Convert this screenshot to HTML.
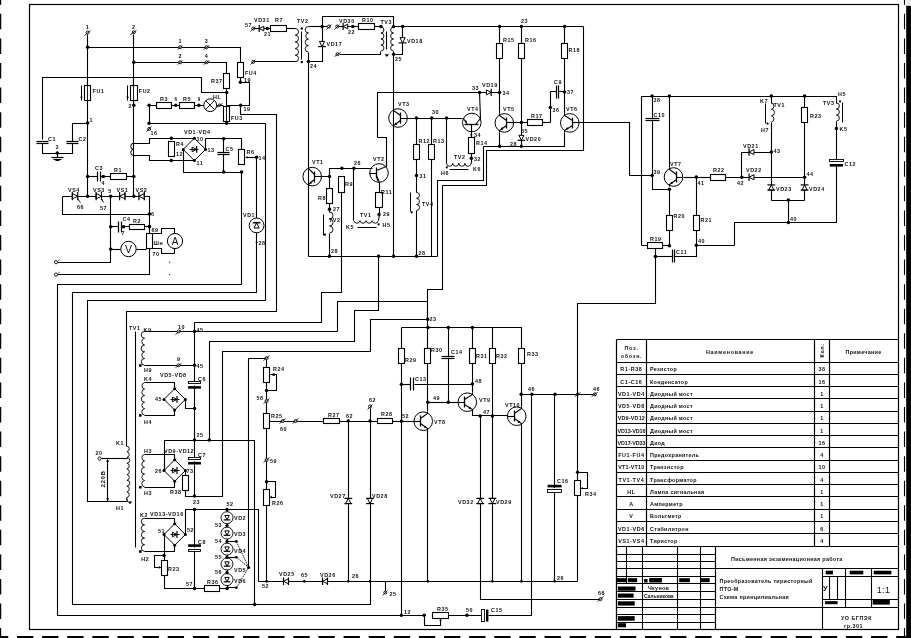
<!DOCTYPE html>
<html><head><meta charset="utf-8"><style>
html,body{margin:0;padding:0;background:#fff;width:911px;height:638px;overflow:hidden}
svg{display:block;will-change:transform}
text{font-family:"Liberation Sans",sans-serif;fill:#111}
</style></head><body>
<svg width="911" height="638" viewBox="0 0 911 638">
<rect width="911" height="638" fill="#fff"/>
<rect x="29.5" y="4.5" width="869" height="625" fill="none" stroke="#000" stroke-width="1.2"/>
<polyline points="0.6,-10.7 0.6,640" fill="none" stroke="#000" stroke-width="1.25" stroke-dasharray="15.5 9.07"/>
<polyline points="904.5,-10.7 904.5,640" fill="none" stroke="#000" stroke-width="1.1" stroke-dasharray="15.5 9.07"/>
<polyline points="-8.1,637 920,637" fill="none" stroke="#000" stroke-width="2" stroke-dasharray="16.3 8.82"/>
<rect x="906.2" y="5.6" width="4.8" height="632.4"/>
<rect x="906.2" y="0" width="4.8" height="5.6" fill="#e8e8e8"/>
<circle cx="87.6" cy="32.5" r="1.5" fill="#fff" stroke="#000" stroke-width="0.9"/>
<polyline points="84.5,35.5 90.5,30.5" fill="none" stroke="#000" stroke-width="0.8"/>
<text x="87.6" y="29" font-size="5.4" letter-spacing="0.55" font-weight="bold" text-anchor="middle">1</text>
<circle cx="133.8" cy="32.3" r="1.5" fill="#fff" stroke="#000" stroke-width="0.9"/>
<polyline points="130.5,34.5 136.5,30.5" fill="none" stroke="#000" stroke-width="0.8"/>
<text x="133.8" y="29" font-size="5.4" letter-spacing="0.55" font-weight="bold" text-anchor="middle">2</text>
<polyline points="87.5,34.5 87.5,196.5" fill="none" stroke="#000" stroke-width="1.1"/>
<polyline points="133.5,34.5 133.5,196.5" fill="none" stroke="#000" stroke-width="1.1"/>
<circle cx="87.6" cy="47.2" r="1.75"/>
<circle cx="133.8" cy="62.3" r="1.75"/>
<polyline points="87.5,47.5 240.5,47.5 240.5,62.5" fill="none" stroke="#000" stroke-width="1.1"/>
<polyline points="133.5,62.5 226.5,62.5 226.5,73.5" fill="none" stroke="#000" stroke-width="1.1"/>
<circle cx="180.2" cy="47.2" r="1.5" fill="#fff" stroke="#000" stroke-width="0.9"/>
<polyline points="177.5,49.5 182.5,45.5" fill="none" stroke="#000" stroke-width="0.8"/>
<circle cx="180.2" cy="62.3" r="1.5" fill="#fff" stroke="#000" stroke-width="0.9"/>
<polyline points="177.5,64.5 182.5,60.5" fill="none" stroke="#000" stroke-width="0.8"/>
<text x="180.2" y="42.5" font-size="5.4" letter-spacing="0.55" font-weight="bold" text-anchor="middle">1</text>
<text x="180.2" y="57.5" font-size="5.4" letter-spacing="0.55" font-weight="bold" text-anchor="middle">2</text>
<circle cx="206.6" cy="47.2" r="1.5" fill="#fff" stroke="#000" stroke-width="0.9"/>
<polyline points="203.5,49.5 209.5,45.5" fill="none" stroke="#000" stroke-width="0.8"/>
<circle cx="206.6" cy="62.3" r="1.5" fill="#fff" stroke="#000" stroke-width="0.9"/>
<polyline points="203.5,64.5 209.5,60.5" fill="none" stroke="#000" stroke-width="0.8"/>
<text x="206.6" y="42.5" font-size="5.4" letter-spacing="0.55" font-weight="bold" text-anchor="middle">3</text>
<text x="206.6" y="57.5" font-size="5.4" letter-spacing="0.55" font-weight="bold" text-anchor="middle">4</text>
<rect x="84.5" y="85.5" width="6" height="15" fill="#fff" stroke="#000" stroke-width="1.1"/>
<polyline points="87.5,85.5 87.5,100.5" fill="none" stroke="#000" stroke-width="0.9"/>
<polyline points="81.5,85.5 81.5,100.5" fill="none" stroke="#000" stroke-width="1.0"/>
<polygon points="80.1,96.8 82.7,96.8 81.4,99"/>
<text x="92.6" y="92.5" font-size="5.4" letter-spacing="0.55" font-weight="bold">FU1</text>
<rect x="130.5" y="85.5" width="7" height="15" fill="#fff" stroke="#000" stroke-width="1.1"/>
<polyline points="133.5,85.5 133.5,100.5" fill="none" stroke="#000" stroke-width="0.9"/>
<polyline points="127.5,85.5 127.5,100.5" fill="none" stroke="#000" stroke-width="1.0"/>
<polygon points="126.3,96.8 128.9,96.8 127.6,99"/>
<text x="138.8" y="92.5" font-size="5.4" letter-spacing="0.55" font-weight="bold">FU2</text>
<circle cx="87.6" cy="123" r="1.75"/>
<text x="89.5" y="121.5" font-size="5.4" letter-spacing="0.55" font-weight="bold">1</text>
<circle cx="133.8" cy="105.2" r="1.75"/>
<text x="128.5" y="107.5" font-size="5.4" letter-spacing="0.55" font-weight="bold">2</text>
<rect x="237.5" y="62.5" width="6" height="15" fill="#fff" stroke="#000" stroke-width="1.1"/>
<polyline points="240.5,77.5 240.5,82.5 249.5,82.5 249.5,105.5 226.5,105.5" fill="none" stroke="#000" stroke-width="1.1"/>
<circle cx="240.4" cy="82.2" r="1.75"/>
<text x="245" y="74.8" font-size="5.4" letter-spacing="0.55" font-weight="bold">FU4</text>
<text x="244" y="81.5" font-size="5.4" letter-spacing="0.55" font-weight="bold">19</text>
<rect x="223.5" y="73.5" width="6" height="15" fill="#fff" stroke="#000" stroke-width="1.1"/>
<text x="211" y="82.5" font-size="5.4" letter-spacing="0.55" font-weight="bold">R37</text>
<polyline points="226.5,88.5 226.5,106.5" fill="none" stroke="#000" stroke-width="1.1"/>
<circle cx="226.7" cy="92.4" r="1.75"/>
<polyline points="42.5,139.5 42.5,77.5 201.5,77.5 201.5,92.5 226.5,92.5" fill="none" stroke="#000" stroke-width="1.1"/>
<rect x="40.3" y="142.1" width="4" height="0.8" fill="#fff"/>
<polyline points="36.5,141.5 48.5,141.5" fill="none" stroke="#000" stroke-width="1.2"/>
<polyline points="36.5,143.5 48.5,143.5" fill="none" stroke="#000" stroke-width="1.2"/>
<rect x="70.4" y="142.1" width="4" height="0.8" fill="#fff"/>
<polyline points="66.5,141.5 78.5,141.5" fill="none" stroke="#000" stroke-width="1.2"/>
<polyline points="66.5,143.5 78.5,143.5" fill="none" stroke="#000" stroke-width="1.2"/>
<polyline points="42.5,143.5 42.5,153.5 72.5,153.5 72.5,143.5" fill="none" stroke="#000" stroke-width="1.1"/>
<polyline points="72.5,141.5 72.5,123.5 87.5,123.5" fill="none" stroke="#000" stroke-width="1.1"/>
<text x="48" y="141" font-size="5.4" letter-spacing="0.55" font-weight="bold">C1</text>
<text x="78.5" y="141" font-size="5.4" letter-spacing="0.55" font-weight="bold">C2</text>
<circle cx="57.3" cy="153" r="1.75"/>
<text x="55.5" y="149" font-size="5.4" letter-spacing="0.55" font-weight="bold">3</text>
<polyline points="57.5,153.5 57.5,157.5" fill="none" stroke="#000" stroke-width="1.1"/>
<polyline points="51.5,157.5 63.5,157.5" fill="none" stroke="#000" stroke-width="1.2"/>
<polyline points="53.5,159.5 61.5,159.5" fill="none" stroke="#000" stroke-width="1.1"/>
<polyline points="55.5,160.5 59.5,160.5" fill="none" stroke="#000" stroke-width="1.0"/>
<polyline points="149.5,105.5 223.5,105.5" fill="none" stroke="#000" stroke-width="1.1"/>
<circle cx="149.1" cy="105.2" r="1.75"/>
<rect x="156.5" y="102.5" width="15" height="6" fill="#fff" stroke="#000" stroke-width="1.1"/>
<text x="160" y="100.5" font-size="5.4" letter-spacing="0.55" font-weight="bold">R3</text>
<circle cx="175.8" cy="105.2" r="1.75"/>
<text x="174.5" y="101" font-size="4.5" letter-spacing="0.55" font-weight="bold">6</text>
<rect x="179.5" y="102.5" width="15" height="6" fill="#fff" stroke="#000" stroke-width="1.1"/>
<text x="183" y="100.5" font-size="5.4" letter-spacing="0.55" font-weight="bold">R5</text>
<circle cx="198.9" cy="105.2" r="1.75"/>
<text x="197.8" y="101" font-size="4.5" letter-spacing="0.55" font-weight="bold">9</text>
<circle cx="210.2" cy="105.2" r="6.4" fill="#fff" stroke="#000" stroke-width="1.0"/>
<polyline points="205.5,100.5 214.5,109.5" fill="none" stroke="#000" stroke-width="0.9"/>
<polyline points="205.5,109.5 214.5,100.5" fill="none" stroke="#000" stroke-width="0.9"/>
<text x="213" y="98.5" font-size="5.4" letter-spacing="0.55" font-weight="bold">HL</text>
<circle cx="219.6" cy="105.2" r="1.2" fill="#fff" stroke="#000" stroke-width="0.9"/>
<polyline points="216.5,107.5 222.5,103.5" fill="none" stroke="#000" stroke-width="0.8"/>
<polyline points="149.5,105.5 149.5,123.5 265.5,123.5 265.5,300.5 87.5,300.5 87.5,501.5 127.5,501.5" fill="none" stroke="#000" stroke-width="1.1"/>
<circle cx="149.1" cy="123.3" r="1.75"/>
<circle cx="149.1" cy="129" r="1.5" fill="#fff" stroke="#000" stroke-width="0.9"/>
<polyline points="146.5,131.5 151.5,126.5" fill="none" stroke="#000" stroke-width="0.8"/>
<text x="150.5" y="135" font-size="5.4" letter-spacing="0.55" font-weight="bold">16</text>
<rect x="223.5" y="106.5" width="6" height="15" fill="#fff" stroke="#000" stroke-width="1.1"/>
<polyline points="226.5,106.5 226.5,121.5" fill="none" stroke="#000" stroke-width="0.9"/>
<circle cx="226.7" cy="123.3" r="1.75"/>
<text x="231" y="119.5" font-size="5.4" letter-spacing="0.55" font-weight="bold">FU3</text>
<circle cx="240.6" cy="105.2" r="1.75"/>
<text x="243.5" y="110.5" font-size="5.4" letter-spacing="0.55" font-weight="bold">19</text>
<polyline points="240.5,105.5 240.5,114.5 276.5,114.5 276.5,311.5 126.5,311.5 126.5,446.5" fill="none" stroke="#000" stroke-width="1.1"/>
<path d="M133.8,143.2 A3.1,3.1 0 0 0 133.8,149.4 A3.1,3.1 0 0 0 133.8,155.6" fill="none" stroke="#000" stroke-width="1.0"/>
<polyline points="133.5,143.5 149.5,143.5 149.5,138.5 194.5,138.5" fill="none" stroke="#000" stroke-width="1.1"/>
<polyline points="133.5,155.5 149.5,155.5 149.5,160.5 194.5,160.5" fill="none" stroke="#000" stroke-width="1.1"/>
<rect x="168.5" y="141.5" width="6" height="15" fill="#fff" stroke="#000" stroke-width="1.1"/>
<circle cx="171.3" cy="138.2" r="1.75"/>
<circle cx="171.3" cy="160.6" r="1.75"/>
<text x="176" y="145.5" font-size="5.4" letter-spacing="0.55" font-weight="bold">R4</text>
<text x="176" y="155.5" font-size="5.4" letter-spacing="0.55" font-weight="bold">12</text>
<polygon points="194.4,138.2 205.6,149.4 194.4,160.6 183.2,149.4" fill="#fff" stroke="#000" stroke-width="1"/>
<polygon points="192.1,147.1 192.1,151.7 196.7,149.4" fill="#fff" stroke="#000" stroke-width="1"/>
<polyline points="196.7,146 196.7,152.8" fill="none" stroke="#000" stroke-width="1.2"/>
<polyline points="189.5,149.5 198.5,149.5" fill="none" stroke="#000" stroke-width="0.9"/>
<circle cx="194.4" cy="138.2" r="1.5"/>
<circle cx="205.6" cy="149.4" r="1.5"/>
<circle cx="194.4" cy="160.6" r="1.5"/>
<circle cx="183.2" cy="149.4" r="1.5"/>
<text x="184" y="134" font-size="5.4" letter-spacing="0.55" font-weight="bold">VD1-VD4</text>
<text x="196.5" y="140.5" font-size="5.4" letter-spacing="0.55" font-weight="bold">10</text>
<text x="207.5" y="151.5" font-size="5.4" letter-spacing="0.55" font-weight="bold">13</text>
<text x="196.5" y="164.5" font-size="5.4" letter-spacing="0.55" font-weight="bold">11</text>
<polyline points="183.5,149.5 183.5,172.5 241.5,172.5" fill="none" stroke="#000" stroke-width="1.1"/>
<polyline points="205.5,149.5 205.5,138.5 241.5,138.5 241.5,149.5" fill="none" stroke="#000" stroke-width="1.1"/>
<circle cx="223.7" cy="138.7" r="1.75"/>
<circle cx="223.7" cy="172.1" r="1.75"/>
<circle cx="241.6" cy="172.1" r="1.75"/>
<polyline points="223.5,138.5 223.5,172.5" fill="none" stroke="#000" stroke-width="1.1"/>
<rect x="221.7" y="153.2" width="4" height="0.8" fill="#fff"/>
<polyline points="217.5,152.5 229.5,152.5" fill="none" stroke="#000" stroke-width="1.2"/>
<polyline points="217.5,154.5 229.5,154.5" fill="none" stroke="#000" stroke-width="1.2"/>
<text x="225.5" y="151" font-size="5.4" letter-spacing="0.55" font-weight="bold">C5</text>
<rect x="238.5" y="149.5" width="6" height="15" fill="#fff" stroke="#000" stroke-width="1.1"/>
<text x="246.5" y="153.5" font-size="5.4" letter-spacing="0.55" font-weight="bold">R6</text>
<polyline points="245.5,157.5 256.5,157.5" fill="none" stroke="#000" stroke-width="1.1"/>
<polygon points="247.6,156.1 247.6,158.5 245.6,157.3"/>
<circle cx="256.6" cy="157.3" r="1.75"/>
<text x="258.5" y="160" font-size="5.4" letter-spacing="0.55" font-weight="bold">14</text>
<polyline points="241.5,172.5 241.5,284.5 57.5,284.5 57.5,615.5 424.5,615.5" fill="none" stroke="#000" stroke-width="1.1"/>
<polyline points="256.5,157.5 256.5,292.5 72.5,292.5 72.5,604.5 370.5,604.5 370.5,581.5" fill="none" stroke="#000" stroke-width="1.1"/>
<circle cx="254.7" cy="604.5" r="1.75"/>
<circle cx="256.6" cy="225.4" r="7.4" fill="#fff" stroke="#000" stroke-width="1.0"/>
<polygon points="254,228 259.2,228 256.6,222.8" fill="#fff" stroke="#000" stroke-width="1"/>
<polyline points="252.7,222.8 260.5,222.8" fill="none" stroke="#000" stroke-width="1.2"/>
<polyline points="253.5,222.5 259.5,222.5" fill="none" stroke="#000" stroke-width="1.2"/>
<text x="243" y="216.5" font-size="5.4" letter-spacing="0.55" font-weight="bold">VD1</text>
<text x="258.5" y="245" font-size="5.4" letter-spacing="0.55" font-weight="bold">28</text>
<circle cx="256.6" cy="242.3" r="1.0"/>
<polyline points="62.5,196.5 149.5,196.5 149.5,214.5 62.5,214.5 62.5,196.5" fill="none" stroke="#000" stroke-width="1.1"/>
<polygon points="72.3,193.5 72.3,198.9 77.7,196.2" fill="#fff" stroke="#000" stroke-width="1"/>
<polyline points="77.7,192.1 77.7,200.2" fill="none" stroke="#000" stroke-width="1.2"/>
<polyline points="72.3,192.1 72.3,200.2" fill="none" stroke="#000" stroke-width="1.2"/>
<text x="68" y="191.5" font-size="5.4" letter-spacing="0.55" font-weight="bold">VS4</text>
<polygon points="96.1,193.5 96.1,198.9 101.5,196.2" fill="#fff" stroke="#000" stroke-width="1"/>
<polyline points="101.5,192.1 101.5,200.2" fill="none" stroke="#000" stroke-width="1.2"/>
<polyline points="96.1,192.1 96.1,200.2" fill="none" stroke="#000" stroke-width="1.2"/>
<text x="93" y="191.5" font-size="5.4" letter-spacing="0.55" font-weight="bold">VS3</text>
<polygon points="125,193.5 125,198.9 119.6,196.2" fill="#fff" stroke="#000" stroke-width="1"/>
<polyline points="119.6,192.1 119.6,200.2" fill="none" stroke="#000" stroke-width="1.2"/>
<polyline points="125,192.1 125,200.2" fill="none" stroke="#000" stroke-width="1.2"/>
<text x="116.5" y="191.5" font-size="5.4" letter-spacing="0.55" font-weight="bold">VS1</text>
<polygon points="144.3,193.5 144.3,198.9 138.9,196.2" fill="#fff" stroke="#000" stroke-width="1"/>
<polyline points="138.9,192.1 138.9,200.2" fill="none" stroke="#000" stroke-width="1.2"/>
<polyline points="144.3,192.1 144.3,200.2" fill="none" stroke="#000" stroke-width="1.2"/>
<text x="135.5" y="191.5" font-size="5.4" letter-spacing="0.55" font-weight="bold">VS2</text>
<polyline points="77.5,198.5 80.5,202.5" fill="none" stroke="#000" stroke-width="0.9"/>
<polyline points="101.5,198.5 103.5,202.5" fill="none" stroke="#000" stroke-width="0.9"/>
<text x="77" y="208.5" font-size="5.4" letter-spacing="0.55" font-weight="bold">66</text>
<text x="100" y="209.5" font-size="5.4" letter-spacing="0.55" font-weight="bold">57</text>
<circle cx="87.6" cy="196.2" r="1.75"/>
<circle cx="110.7" cy="196.2" r="1.75"/>
<circle cx="133.8" cy="196.2" r="1.75"/>
<text x="108.3" y="192.5" font-size="5.4" letter-spacing="0.55" font-weight="bold">5</text>
<circle cx="149.4" cy="214" r="1.75"/>
<text x="151" y="216" font-size="5.4" letter-spacing="0.55" font-weight="bold">6</text>
<polyline points="87.5,176.5 97.5,176.5" fill="none" stroke="#000" stroke-width="1.1"/>
<polyline points="100.5,176.5 110.5,176.5" fill="none" stroke="#000" stroke-width="1.1"/>
<polyline points="97.5,171.5 97.5,181.5" fill="none" stroke="#000" stroke-width="1.2"/>
<polyline points="100.5,171.5 100.5,181.5" fill="none" stroke="#000" stroke-width="1.2"/>
<circle cx="87.6" cy="176.5" r="1.75"/>
<circle cx="103.3" cy="176.5" r="1.75"/>
<circle cx="133.8" cy="176.5" r="1.75"/>
<rect x="110.5" y="173.5" width="16" height="6" fill="#fff" stroke="#000" stroke-width="1.1"/>
<polyline points="126.5,176.5 133.5,176.5" fill="none" stroke="#000" stroke-width="1.1"/>
<text x="95" y="169.5" font-size="5.4" letter-spacing="0.55" font-weight="bold">C3</text>
<text x="114" y="171.5" font-size="5.4" letter-spacing="0.55" font-weight="bold">R1</text>
<text x="101.5" y="184.5" font-size="5.4" letter-spacing="0.55" font-weight="bold">4</text>
<polyline points="110.5,196.5 110.5,262.5 57.5,262.5" fill="none" stroke="#000" stroke-width="1.1"/>
<polyline points="110.5,226.5 118.5,226.5" fill="none" stroke="#000" stroke-width="1.1"/>
<polyline points="121.5,226.5 129.5,226.5" fill="none" stroke="#000" stroke-width="1.1"/>
<polyline points="118.5,221.5 118.5,232.5" fill="none" stroke="#000" stroke-width="1.2"/>
<polyline points="121.5,221.5 121.5,232.5" fill="none" stroke="#000" stroke-width="1.2"/>
<circle cx="110.7" cy="226.7" r="1.75"/>
<circle cx="123.6" cy="226.7" r="1.75"/>
<circle cx="149.4" cy="226.7" r="1.75"/>
<rect x="129.5" y="224.5" width="15" height="5" fill="#fff" stroke="#000" stroke-width="1.1"/>
<polyline points="144.5,226.5 149.5,226.5" fill="none" stroke="#000" stroke-width="1.1"/>
<text x="122.5" y="221" font-size="5.4" letter-spacing="0.55" font-weight="bold">C4</text>
<text x="133" y="222.5" font-size="5.4" letter-spacing="0.55" font-weight="bold">R2</text>
<text x="121.5" y="235" font-size="5.4" letter-spacing="0.55" font-weight="bold">7</text>
<polyline points="149.5,214.5 149.5,233.5" fill="none" stroke="#000" stroke-width="1.1"/>
<polyline points="149.5,248.5 149.5,274.5 57.5,274.5" fill="none" stroke="#000" stroke-width="1.1"/>
<rect x="146.5" y="233.5" width="6" height="15" fill="#fff" stroke="#000" stroke-width="1.1"/>
<circle cx="149.4" cy="226.5" r="1.7"/>
<text x="151.5" y="232" font-size="5.4" letter-spacing="0.55" font-weight="bold">69</text>
<text x="152.5" y="256" font-size="5.4" letter-spacing="0.55" font-weight="bold">70</text>
<text x="153.5" y="244.5" font-size="5.4" letter-spacing="0.55" font-weight="bold">Шн</text>
<polyline points="152.5,233.5 161.5,233.5 161.5,228.5 174.5,228.5 174.5,233.5" fill="none" stroke="#000" stroke-width="1.1"/>
<polyline points="152.5,248.5 161.5,248.5 161.5,253.5 174.5,253.5 174.5,248.5" fill="none" stroke="#000" stroke-width="1.1"/>
<circle cx="175" cy="241" r="7.6" fill="#fff" stroke="#000" stroke-width="1.0"/>
<text x="175.2" y="244.8" font-size="10" letter-spacing="0" font-weight="normal" text-anchor="middle">A</text>
<circle cx="128.5" cy="249" r="7.7" fill="#fff" stroke="#000" stroke-width="1.0"/>
<text x="128.6" y="252.8" font-size="10.5" letter-spacing="0" font-weight="normal" text-anchor="middle">V</text>
<polyline points="110.5,249.5 120.5,249.5" fill="none" stroke="#000" stroke-width="1.1"/>
<polyline points="136.5,249.5 146.5,249.5" fill="none" stroke="#000" stroke-width="1.1"/>
<circle cx="110.7" cy="249" r="1.75"/>
<circle cx="56" cy="262.2" r="1.6" fill="#fff" stroke="#000" stroke-width="0.9"/>
<circle cx="56" cy="274.6" r="1.6" fill="#fff" stroke="#000" stroke-width="0.9"/>
<polyline points="58.3,260.6 59.8,259.8" fill="none" stroke="#000" stroke-width="0.7"/>
<polyline points="58.3,273 59.8,272.2" fill="none" stroke="#000" stroke-width="0.7"/>
<circle cx="169.7" cy="262.2" r="0.6"/>
<circle cx="169.7" cy="274.6" r="0.6"/>
<path d="M126.9,446 A2.9,2.9 0 0 1 126.9,451.7 A2.9,2.9 0 0 1 126.9,457.4 A2.9,2.9 0 0 1 126.9,463.2 A2.9,2.9 0 0 1 126.9,468.9 A2.9,2.9 0 0 1 126.9,474.6 A2.9,2.9 0 0 1 126.9,480.3 A2.9,2.9 0 0 1 126.9,486.1 A2.9,2.9 0 0 1 126.9,491.8 A2.9,2.9 0 0 1 126.9,497.5" fill="none" stroke="#000" stroke-width="0.9"/>
<polyline points="126.5,497.5 127.5,501.5" fill="none" stroke="#000" stroke-width="1.1"/>
<text x="116" y="445" font-size="5.4" letter-spacing="0.55" font-weight="bold">K1</text>
<text x="116" y="510" font-size="5.4" letter-spacing="0.55" font-weight="bold">H1</text>
<circle cx="99.6" cy="458.5" r="1.6" fill="#fff" stroke="#000" stroke-width="0.9"/>
<text x="95.5" y="455" font-size="5.4" letter-spacing="0.55" font-weight="bold">20</text>
<polyline points="101.5,458.5 127.5,458.5" fill="none" stroke="#000" stroke-width="1.1"/>
<polyline points="107.5,459.5 107.5,501.5" fill="none" stroke="#000" stroke-width="1.1"/>
<polygon points="106.1,461.8 109.3,461.8 107.7,459.2"/>
<polygon points="106.1,498.2 109.3,498.2 107.7,500.8"/>
<text x="0" y="0" font-size="6.2" letter-spacing="0.5" font-weight="bold" text-anchor="middle" transform="translate(105.2,479) rotate(-90)">220В</text>
<polygon points="127.8,501.5 132.2,501.5 130,504.2"/>
<text x="129" y="329.5" font-size="5.4" letter-spacing="0.55" font-weight="bold">TV1</text>
<polyline points="135.5,331.5 135.5,547.5" fill="none" stroke="#000" stroke-width="1.1"/>
<path d="M144.6,331.5 A3.4,3.4 0 0 0 144.6,338.3 A3.4,3.4 0 0 0 144.6,345 A3.4,3.4 0 0 0 144.6,351.8 A3.4,3.4 0 0 0 144.6,358.5 A3.4,3.4 0 0 0 144.6,365.3" fill="none" stroke="#000" stroke-width="0.9"/>
<rect x="139" y="364.2" width="2.6" height="2.6"/>
<text x="143.5" y="332.2" font-size="5.4" letter-spacing="0.55" font-weight="bold">K9</text>
<text x="144" y="371.5" font-size="5.4" letter-spacing="0.55" font-weight="bold">H9</text>
<path d="M144.6,382.6 A3.3,3.3 0 0 0 144.6,389.1 A3.3,3.3 0 0 0 144.6,395.6 A3.3,3.3 0 0 0 144.6,402.2 A3.3,3.3 0 0 0 144.6,408.7 A3.3,3.3 0 0 0 144.6,415.2" fill="none" stroke="#000" stroke-width="0.9"/>
<rect x="139" y="414.1" width="2.6" height="2.6"/>
<text x="144" y="381" font-size="5.4" letter-spacing="0.55" font-weight="bold">K4</text>
<text x="144" y="423.5" font-size="5.4" letter-spacing="0.55" font-weight="bold">H4</text>
<path d="M144.6,454.4 A3.3,3.3 0 0 0 144.6,460.9 A3.3,3.3 0 0 0 144.6,467.4 A3.3,3.3 0 0 0 144.6,474 A3.3,3.3 0 0 0 144.6,480.5 A3.3,3.3 0 0 0 144.6,487" fill="none" stroke="#000" stroke-width="0.9"/>
<rect x="139" y="485.9" width="2.6" height="2.6"/>
<text x="144" y="452.8" font-size="5.4" letter-spacing="0.55" font-weight="bold">H3</text>
<text x="144" y="495" font-size="5.4" letter-spacing="0.55" font-weight="bold">H3</text>
<path d="M144.6,518.3 A3.3,3.3 0 0 0 144.6,524.9 A3.3,3.3 0 0 0 144.6,531.5 A3.3,3.3 0 0 0 144.6,538.1 A3.3,3.3 0 0 0 144.6,544.7 A3.3,3.3 0 0 0 144.6,551.3" fill="none" stroke="#000" stroke-width="0.9"/>
<rect x="139" y="550.2" width="2.6" height="2.6"/>
<text x="140" y="517" font-size="5.4" letter-spacing="0.55" font-weight="bold">K2</text>
<text x="141.2" y="560.5" font-size="5.4" letter-spacing="0.55" font-weight="bold">H2</text>
<polyline points="144.5,331.5 194.5,331.5" fill="none" stroke="#000" stroke-width="1.1"/>
<polyline points="144.5,365.5 194.5,365.5" fill="none" stroke="#000" stroke-width="1.1"/>
<circle cx="178.5" cy="331.5" r="1.5" fill="#fff" stroke="#000" stroke-width="0.9"/>
<polyline points="175.5,334.5 181.5,329.5" fill="none" stroke="#000" stroke-width="0.8"/>
<circle cx="178.5" cy="365.3" r="1.5" fill="#fff" stroke="#000" stroke-width="0.9"/>
<polyline points="175.5,367.5 181.5,363.5" fill="none" stroke="#000" stroke-width="0.8"/>
<text x="178" y="329" font-size="5.4" letter-spacing="0.55" font-weight="bold">10</text>
<text x="177" y="361" font-size="5.4" letter-spacing="0.55" font-weight="bold">9</text>
<circle cx="194.5" cy="331.5" r="1.75"/>
<circle cx="194.5" cy="365.3" r="1.75"/>
<text x="196.5" y="331.5" font-size="5.4" letter-spacing="0.55" font-weight="bold">45</text>
<text x="196.5" y="367.5" font-size="5.4" letter-spacing="0.55" font-weight="bold">45</text>
<polyline points="194.5,322.5 194.5,496.5" fill="none" stroke="#000" stroke-width="1.1"/>
<rect x="192.5" y="384.1" width="4" height="1.4" fill="#fff"/>
<rect x="188.5" y="381.5" width="12" height="2" fill="#fff" stroke="#000" stroke-width="0.9"/>
<rect x="188.1" y="386.1" width="12.8" height="2.6"/>
<text x="198" y="380.5" font-size="5.4" letter-spacing="0.55" font-weight="bold">C6</text>
<polyline points="144.5,382.5 174.5,382.5 174.5,388.5" fill="none" stroke="#000" stroke-width="1.1"/>
<polyline points="144.5,415.5 174.5,415.5 174.5,410.5" fill="none" stroke="#000" stroke-width="1.1"/>
<polygon points="174.7,388.7 185.4,399.4 174.7,410.1 164,399.4" fill="#fff" stroke="#000" stroke-width="1"/>
<polygon points="172.4,397.1 172.4,401.7 177,399.4" fill="#fff" stroke="#000" stroke-width="1"/>
<polyline points="177,395.9 177,402.8" fill="none" stroke="#000" stroke-width="1.2"/>
<polyline points="170.5,399.5 179.5,399.5" fill="none" stroke="#000" stroke-width="0.9"/>
<circle cx="174.7" cy="388.7" r="1.5"/>
<circle cx="185.4" cy="399.4" r="1.5"/>
<circle cx="174.7" cy="410.1" r="1.5"/>
<circle cx="164" cy="399.4" r="1.5"/>
<polyline points="185.5,399.5 185.5,408.5 194.5,408.5" fill="none" stroke="#000" stroke-width="1.1"/>
<circle cx="194.5" cy="408.6" r="1.75"/>
<text x="160" y="377" font-size="5.4" letter-spacing="0.55" font-weight="bold">VD5-VD8</text>
<text x="155" y="401.2" font-size="5.4" letter-spacing="0.55" font-weight="bold">45</text>
<polyline points="144.5,454.5 174.5,454.5 174.5,459.5" fill="none" stroke="#000" stroke-width="1.1"/>
<polyline points="144.5,487.5 174.5,487.5 174.5,481.5" fill="none" stroke="#000" stroke-width="1.1"/>
<polygon points="174.7,459.8 185.4,470.5 174.7,481.2 164,470.5" fill="#fff" stroke="#000" stroke-width="1"/>
<polygon points="172.4,468.2 172.4,472.8 177,470.5" fill="#fff" stroke="#000" stroke-width="1"/>
<polyline points="177,467.1 177,473.9" fill="none" stroke="#000" stroke-width="1.2"/>
<polyline points="170.5,470.5 179.5,470.5" fill="none" stroke="#000" stroke-width="0.9"/>
<circle cx="174.7" cy="459.8" r="1.5"/>
<circle cx="185.4" cy="470.5" r="1.5"/>
<circle cx="174.7" cy="481.2" r="1.5"/>
<circle cx="164" cy="470.5" r="1.5"/>
<polyline points="164.5,470.5 164.5,440.5 254.5,440.5 254.5,604.5" fill="none" stroke="#000" stroke-width="1.1"/>
<circle cx="194.5" cy="440" r="1.75"/>
<circle cx="209.3" cy="440" r="1.75"/>
<text x="196.5" y="437" font-size="5.4" letter-spacing="0.55" font-weight="bold">25</text>
<rect x="192.5" y="459.9" width="4" height="1.4" fill="#fff"/>
<rect x="188.5" y="457.5" width="12" height="2" fill="#fff" stroke="#000" stroke-width="0.9"/>
<rect x="188.1" y="461.9" width="12.8" height="2.6"/>
<text x="198" y="456.5" font-size="5.4" letter-spacing="0.55" font-weight="bold">C7</text>
<text x="164" y="452.5" font-size="5.4" letter-spacing="0.55" font-weight="bold">VD9-VD12</text>
<text x="155" y="472.5" font-size="5.4" letter-spacing="0.55" font-weight="bold">26</text>
<text x="186.5" y="472.5" font-size="5.4" letter-spacing="0.55" font-weight="bold">73</text>
<polyline points="185.5,470.5 185.5,475.5" fill="none" stroke="#000" stroke-width="1.1"/>
<rect x="182.5" y="475.5" width="6" height="15" fill="#fff" stroke="#000" stroke-width="1.1"/>
<polyline points="185.5,490.5 185.5,496.5 222.5,496.5 222.5,351.5 370.5,351.5 370.5,319.5 427.5,319.5" fill="none" stroke="#000" stroke-width="1.1"/>
<circle cx="194.5" cy="496" r="1.75"/>
<text x="193" y="503.5" font-size="5.4" letter-spacing="0.55" font-weight="bold">23</text>
<text x="170" y="494" font-size="5.4" letter-spacing="0.55" font-weight="bold">R38</text>
<polyline points="209.5,440.5 209.5,341.5 354.5,341.5 354.5,310.5 378.5,310.5 378.5,256.5" fill="none" stroke="#000" stroke-width="1.1"/>
<polyline points="144.5,518.5 174.5,518.5 174.5,523.5" fill="none" stroke="#000" stroke-width="1.1"/>
<polyline points="144.5,551.5 174.5,551.5 174.5,545.5" fill="none" stroke="#000" stroke-width="1.1"/>
<polygon points="174.7,523.8 185.4,534.5 174.7,545.2 164,534.5" fill="#fff" stroke="#000" stroke-width="1"/>
<polygon points="172.4,532.2 172.4,536.8 177,534.5" fill="#fff" stroke="#000" stroke-width="1"/>
<polyline points="177,531 177,538" fill="none" stroke="#000" stroke-width="1.2"/>
<polyline points="170.5,534.5 179.5,534.5" fill="none" stroke="#000" stroke-width="0.9"/>
<circle cx="174.7" cy="523.8" r="1.5"/>
<circle cx="185.4" cy="534.5" r="1.5"/>
<circle cx="174.7" cy="545.2" r="1.5"/>
<circle cx="164" cy="534.5" r="1.5"/>
<text x="150" y="516" font-size="5.4" letter-spacing="0.55" font-weight="bold">VD13-VD16</text>
<text x="158" y="532.5" font-size="5.4" letter-spacing="0.55" font-weight="bold">51</text>
<text x="187" y="532" font-size="5.4" letter-spacing="0.55" font-weight="bold">52</text>
<polyline points="164.5,534.5 164.5,560.5" fill="none" stroke="#000" stroke-width="1.1"/>
<circle cx="164" cy="555.6" r="1.75"/>
<rect x="161.5" y="560.5" width="6" height="15" fill="#fff" stroke="#000" stroke-width="1.1"/>
<polyline points="164.5,575.5 164.5,588.5 227.5,588.5" fill="none" stroke="#000" stroke-width="1.1"/>
<polyline points="164.5,555.5 154.5,555.5 154.5,567.5 160.5,567.5" fill="none" stroke="#000" stroke-width="1.1"/>
<polygon points="158.9,566.1 158.9,568.7 161.1,567.4"/>
<text x="168" y="571" font-size="5.4" letter-spacing="0.55" font-weight="bold">R23</text>
<polyline points="185.5,534.5 185.5,509.5 258.5,509.5 258.5,581.5" fill="none" stroke="#000" stroke-width="1.1"/>
<circle cx="194.5" cy="509.4" r="1.75"/>
<circle cx="227" cy="509.4" r="1.75"/>
<polyline points="194.5,509.5 194.5,588.5" fill="none" stroke="#000" stroke-width="1.1"/>
<rect x="192.5" y="547.5" width="4" height="1.4" fill="#fff"/>
<rect x="188.1" y="544.3" width="12.8" height="2.6"/>
<rect x="188.5" y="549.5" width="12" height="2" fill="#fff" stroke="#000" stroke-width="0.9"/>
<text x="198" y="543.5" font-size="5.4" letter-spacing="0.55" font-weight="bold">C8</text>
<circle cx="194.5" cy="588.5" r="1.75"/>
<text x="186" y="586" font-size="5.4" letter-spacing="0.55" font-weight="bold">57</text>
<rect x="204.5" y="585.5" width="15" height="6" fill="#fff" stroke="#000" stroke-width="1.1"/>
<text x="207" y="583.5" font-size="5.4" letter-spacing="0.55" font-weight="bold">R36</text>
<circle cx="227" cy="588.5" r="1.75"/>
<polyline points="227.5,509.5 227.5,588.5" fill="none" stroke="#000" stroke-width="1.1"/>
<circle cx="227" cy="517.7" r="6" fill="#fff" stroke="#000" stroke-width="0.9"/>
<polygon points="224.8,515.5 229.2,515.5 227,519.9" fill="#fff" stroke="#000" stroke-width="1"/>
<polyline points="223.7,519.9 230.3,519.9" fill="none" stroke="#000" stroke-width="1.2"/>
<text x="234" y="520" font-size="5.4" letter-spacing="0.55" font-weight="bold">VD2</text>
<circle cx="227" cy="533.1" r="6" fill="#fff" stroke="#000" stroke-width="0.9"/>
<polygon points="224.8,530.9 229.2,530.9 227,535.3" fill="#fff" stroke="#000" stroke-width="1"/>
<polyline points="223.7,535.3 230.3,535.3" fill="none" stroke="#000" stroke-width="1.2"/>
<text x="234" y="535.5" font-size="5.4" letter-spacing="0.55" font-weight="bold">VD3</text>
<circle cx="227" cy="549.1" r="6" fill="#fff" stroke="#000" stroke-width="0.9"/>
<polygon points="224.8,546.9 229.2,546.9 227,551.3" fill="#fff" stroke="#000" stroke-width="1"/>
<polyline points="223.7,551.3 230.3,551.3" fill="none" stroke="#000" stroke-width="1.2"/>
<text x="234" y="553" font-size="5.4" letter-spacing="0.55" font-weight="bold">VD4</text>
<circle cx="227" cy="564" r="6" fill="#fff" stroke="#000" stroke-width="0.9"/>
<polygon points="224.8,561.8 229.2,561.8 227,566.2" fill="#fff" stroke="#000" stroke-width="1"/>
<polyline points="223.7,566.2 230.3,566.2" fill="none" stroke="#000" stroke-width="1.2"/>
<text x="234" y="571.5" font-size="5.4" letter-spacing="0.55" font-weight="bold">VD5</text>
<circle cx="227" cy="579.6" r="6" fill="#fff" stroke="#000" stroke-width="0.9"/>
<polygon points="224.8,577.4 229.2,577.4 227,581.8" fill="#fff" stroke="#000" stroke-width="1"/>
<polyline points="223.7,581.8 230.3,581.8" fill="none" stroke="#000" stroke-width="1.2"/>
<text x="234" y="583" font-size="5.4" letter-spacing="0.55" font-weight="bold">VD6</text>
<circle cx="227" cy="525.6" r="1.6"/>
<text x="215" y="527.1" font-size="5.4" letter-spacing="0.55" font-weight="bold">53</text>
<circle cx="227" cy="541.4" r="1.6"/>
<text x="215" y="542.9" font-size="5.4" letter-spacing="0.55" font-weight="bold">54</text>
<circle cx="227" cy="557.2" r="1.6"/>
<text x="215" y="558.7" font-size="5.4" letter-spacing="0.55" font-weight="bold">55</text>
<circle cx="227" cy="572.6" r="1.6"/>
<text x="215" y="574.1" font-size="5.4" letter-spacing="0.55" font-weight="bold">56</text>
<text x="226.5" y="506" font-size="5.4" letter-spacing="0.55" font-weight="bold">52</text>
<polyline points="227.5,541.5 236.5,541.5" fill="none" stroke="#000" stroke-width="1.1"/>
<circle cx="236.4" cy="541.4" r="1.3"/>
<polyline points="236.4,541.4 248.6,567.4" fill="none" stroke="#000" stroke-width="0.9" stroke-dasharray="1.6 0.9"/>
<polyline points="227.5,557.5 236.5,557.5" fill="none" stroke="#000" stroke-width="1.1"/>
<circle cx="236.4" cy="557.2" r="1.3"/>
<polyline points="236.4,557.2 248.6,567.4" fill="none" stroke="#000" stroke-width="0.9" stroke-dasharray="1.6 0.9"/>
<polyline points="227.5,587.5 236.5,587.5" fill="none" stroke="#000" stroke-width="1.1"/>
<circle cx="236.4" cy="587.8" r="1.3"/>
<polyline points="236.4,587.8 248.6,567.4" fill="none" stroke="#000" stroke-width="0.9" stroke-dasharray="1.6 0.9"/>
<circle cx="248.6" cy="567.4" r="1.5"/>
<polyline points="266.5,358.5 248.5,358.5 248.5,567.5" fill="none" stroke="#000" stroke-width="1.1"/>
<circle cx="266.6" cy="358.1" r="1.5" fill="#fff" stroke="#000" stroke-width="0.9"/>
<polyline points="263.5,360.5 269.5,355.5" fill="none" stroke="#000" stroke-width="0.8"/>
<polyline points="266.5,359.5 266.5,367.5" fill="none" stroke="#000" stroke-width="1.1"/>
<rect x="263.5" y="367.5" width="6" height="15" fill="#fff" stroke="#000" stroke-width="1.1"/>
<text x="273" y="371" font-size="5.4" letter-spacing="0.55" font-weight="bold">R24</text>
<polyline points="269.5,374.5 276.5,374.5 276.5,390.5 266.5,390.5" fill="none" stroke="#000" stroke-width="1.1"/>
<rect x="272.5" y="373.4" width="2.4" height="2.4"/>
<polyline points="266.5,382.5 266.5,399.5" fill="none" stroke="#000" stroke-width="1.1"/>
<circle cx="266.6" cy="390.4" r="1.75"/>
<circle cx="266.6" cy="401" r="1.5" fill="#fff" stroke="#000" stroke-width="0.9"/>
<polyline points="263.5,403.5 269.5,398.5" fill="none" stroke="#000" stroke-width="0.8"/>
<text x="256.5" y="400" font-size="5.4" letter-spacing="0.55" font-weight="bold">58</text>
<polyline points="266.5,402.5 266.5,413.5" fill="none" stroke="#000" stroke-width="1.1"/>
<rect x="263.5" y="413.5" width="6" height="15" fill="#fff" stroke="#000" stroke-width="1.1"/>
<text x="271" y="417.5" font-size="5.4" letter-spacing="0.55" font-weight="bold">R25</text>
<polyline points="269.5,421.5 323.5,421.5" fill="none" stroke="#000" stroke-width="1.1"/>
<circle cx="282.7" cy="421" r="1.5" fill="#fff" stroke="#000" stroke-width="0.9"/>
<polyline points="279.5,423.5 285.5,418.5" fill="none" stroke="#000" stroke-width="0.8"/>
<circle cx="295.6" cy="421" r="1.5" fill="#fff" stroke="#000" stroke-width="0.9"/>
<polyline points="292.5,423.5 298.5,418.5" fill="none" stroke="#000" stroke-width="0.8"/>
<text x="280" y="431" font-size="5.4" letter-spacing="0.55" font-weight="bold">60</text>
<rect x="323.5" y="418.5" width="16" height="5" fill="#fff" stroke="#000" stroke-width="1.1"/>
<text x="328" y="416.5" font-size="5.4" letter-spacing="0.55" font-weight="bold">R27</text>
<polyline points="339.5,421.5 377.5,421.5" fill="none" stroke="#000" stroke-width="1.1"/>
<circle cx="348.3" cy="421" r="1.75"/>
<circle cx="370" cy="421" r="1.75"/>
<text x="346" y="417.5" font-size="5.4" letter-spacing="0.55" font-weight="bold">62</text>
<circle cx="370" cy="406.5" r="1.5" fill="#fff" stroke="#000" stroke-width="0.9"/>
<polyline points="367.5,409.5 372.5,404.5" fill="none" stroke="#000" stroke-width="0.8"/>
<text x="369" y="402" font-size="5.4" letter-spacing="0.55" font-weight="bold">62</text>
<rect x="377.5" y="418.5" width="15" height="5" fill="#fff" stroke="#000" stroke-width="1.1"/>
<text x="381" y="416" font-size="5.4" letter-spacing="0.55" font-weight="bold">R28</text>
<polyline points="392.5,421.5 414.5,421.5" fill="none" stroke="#000" stroke-width="1.1"/>
<circle cx="401.4" cy="421.2" r="1.75"/>
<text x="402" y="418" font-size="5.4" letter-spacing="0.55" font-weight="bold">52</text>
<polyline points="266.5,428.5 266.5,458.5" fill="none" stroke="#000" stroke-width="1.1"/>
<circle cx="266.6" cy="460" r="1.5" fill="#fff" stroke="#000" stroke-width="0.9"/>
<polyline points="263.5,462.5 269.5,457.5" fill="none" stroke="#000" stroke-width="0.8"/>
<text x="270" y="463" font-size="5.4" letter-spacing="0.55" font-weight="bold">59</text>
<polyline points="266.5,461.5 266.5,489.5" fill="none" stroke="#000" stroke-width="1.1"/>
<circle cx="266.6" cy="481.8" r="1.75"/>
<polyline points="266.5,481.5 275.5,481.5 275.5,497.5 270.5,497.5" fill="none" stroke="#000" stroke-width="1.1"/>
<polygon points="271.8,495.8 271.8,498.4 269.6,497.1"/>
<rect x="263.5" y="489.5" width="6" height="16" fill="#fff" stroke="#000" stroke-width="1.1"/>
<text x="272" y="504.5" font-size="5.4" letter-spacing="0.55" font-weight="bold">R26</text>
<polyline points="266.5,505.5 266.5,581.5" fill="none" stroke="#000" stroke-width="1.1"/>
<polyline points="348.5,421.5 348.5,581.5" fill="none" stroke="#000" stroke-width="1.1"/>
<polyline points="370.5,408.5 370.5,581.5" fill="none" stroke="#000" stroke-width="1.1"/>
<polygon points="345.7,503.6 350.9,503.6 348.3,498.4" fill="#fff" stroke="#000" stroke-width="1"/>
<polyline points="344.4,498.4 352.2,498.4" fill="none" stroke="#000" stroke-width="1.2"/>
<polyline points="344.4,503.6 352.2,503.6" fill="none" stroke="#000" stroke-width="1.2"/>
<polygon points="367.4,498.4 372.6,498.4 370,503.6" fill="#fff" stroke="#000" stroke-width="1"/>
<polyline points="366.1,503.6 373.9,503.6" fill="none" stroke="#000" stroke-width="1.2"/>
<polyline points="366.1,498.4 373.9,498.4" fill="none" stroke="#000" stroke-width="1.2"/>
<text x="330" y="497.5" font-size="5.4" letter-spacing="0.55" font-weight="bold">VD27</text>
<text x="372" y="497.5" font-size="5.4" letter-spacing="0.55" font-weight="bold">VD28</text>
<polyline points="258.5,581.5 577.5,581.5" fill="none" stroke="#000" stroke-width="1.1"/>
<polygon points="288.5,578.8 288.5,583.8 283.5,581.3" fill="#fff" stroke="#000" stroke-width="1"/>
<polyline points="283.5,577.5 283.5,585" fill="none" stroke="#000" stroke-width="1.2"/>
<polyline points="288.5,577.5 288.5,585" fill="none" stroke="#000" stroke-width="1.2"/>
<polygon points="327.5,578.8 327.5,583.8 322.5,581.3" fill="#fff" stroke="#000" stroke-width="1"/>
<polyline points="322.5,577.5 322.5,585" fill="none" stroke="#000" stroke-width="1.2"/>
<polyline points="327.5,577.5 327.5,585" fill="none" stroke="#000" stroke-width="1.2"/>
<circle cx="266.6" cy="581.3" r="1.4"/>
<circle cx="304.2" cy="581.3" r="1.4"/>
<circle cx="348.3" cy="581.3" r="1.4"/>
<circle cx="370" cy="581.3" r="1.4"/>
<circle cx="427.8" cy="581.3" r="1.4"/>
<circle cx="492.4" cy="581.3" r="1.4"/>
<circle cx="521.5" cy="581.3" r="1.4"/>
<circle cx="554.6" cy="581.3" r="1.4"/>
<text x="262" y="587.5" font-size="5.4" letter-spacing="0.55" font-weight="bold">52</text>
<text x="279" y="575.5" font-size="5.4" letter-spacing="0.55" font-weight="bold">VD25</text>
<text x="301" y="577" font-size="5.4" letter-spacing="0.55" font-weight="bold">65</text>
<text x="320" y="576.5" font-size="5.4" letter-spacing="0.55" font-weight="bold">VD26</text>
<text x="352" y="578" font-size="5.4" letter-spacing="0.55" font-weight="bold">26</text>
<text x="557" y="579.5" font-size="5.4" letter-spacing="0.55" font-weight="bold">26</text>
<polyline points="385.5,581.5 385.5,591.5" fill="none" stroke="#000" stroke-width="1.1"/>
<circle cx="385.3" cy="592.6" r="1.5" fill="#fff" stroke="#000" stroke-width="0.9"/>
<polyline points="382.5,595.5 387.5,590.5" fill="none" stroke="#000" stroke-width="0.8"/>
<text x="389.5" y="596" font-size="5.4" letter-spacing="0.55" font-weight="bold">25</text>
<polyline points="401.5,327.5 401.5,615.5" fill="none" stroke="#000" stroke-width="1.1"/>
<circle cx="401.4" cy="615.3" r="1.75"/>
<text x="404" y="614" font-size="5.4" letter-spacing="0.55" font-weight="bold">12</text>
<rect x="398.5" y="348.5" width="6" height="15" fill="#fff" stroke="#000" stroke-width="1.1"/>
<text x="405" y="361.5" font-size="5.4" letter-spacing="0.55" font-weight="bold">R29</text>
<polyline points="401.5,327.5 521.5,327.5 521.5,348.5" fill="none" stroke="#000" stroke-width="1.1"/>
<circle cx="428" cy="327.6" r="1.75"/>
<circle cx="448.3" cy="327.6" r="1.75"/>
<circle cx="472.4" cy="327.6" r="1.75"/>
<circle cx="427.6" cy="319.3" r="1.75"/>
<text x="429.5" y="320.7" font-size="5.4" letter-spacing="0.55" font-weight="bold">23</text>
<polyline points="442.5,185.5 442.5,289.5 427.5,289.5 427.5,348.5" fill="none" stroke="#000" stroke-width="1.1"/>
<polyline points="337.5,331.5 337.5,301.5 427.5,301.5" fill="none" stroke="#000" stroke-width="1.1"/>
<polyline points="194.5,331.5 337.5,331.5" fill="none" stroke="#000" stroke-width="1.1"/>
<rect x="424.5" y="348.5" width="6" height="15" fill="#fff" stroke="#000" stroke-width="1.1"/>
<text x="431" y="352" font-size="5.4" letter-spacing="0.55" font-weight="bold">R30</text>
<polyline points="427.5,363.5 427.5,411.5" fill="none" stroke="#000" stroke-width="1.1"/>
<circle cx="427.8" cy="402.2" r="1.75"/>
<text x="433" y="399.5" font-size="5.4" letter-spacing="0.55" font-weight="bold">49</text>
<polyline points="427.5,402.5 458.5,402.5" fill="none" stroke="#000" stroke-width="1.1"/>
<circle cx="448.3" cy="402.2" r="1.75"/>
<polyline points="448.5,327.5 448.5,402.5" fill="none" stroke="#000" stroke-width="1.1"/>
<rect x="446.3" y="356.6" width="4" height="1.2" fill="#fff"/>
<polyline points="441.5,356.5 454.5,356.5" fill="none" stroke="#000" stroke-width="1.2"/>
<polyline points="441.5,358.5 454.5,358.5" fill="none" stroke="#000" stroke-width="1.2"/>
<text x="451" y="353.5" font-size="5.4" letter-spacing="0.55" font-weight="bold">C14</text>
<polyline points="472.5,327.5 472.5,392.5" fill="none" stroke="#000" stroke-width="1.1"/>
<rect x="469.5" y="348.5" width="6" height="15" fill="#fff" stroke="#000" stroke-width="1.1"/>
<text x="476" y="357.5" font-size="5.4" letter-spacing="0.55" font-weight="bold">R31</text>
<circle cx="472.4" cy="384.1" r="1.75"/>
<text x="475" y="382.5" font-size="5.4" letter-spacing="0.55" font-weight="bold">48</text>
<polyline points="401.5,384.5 410.5,384.5" fill="none" stroke="#000" stroke-width="1.1"/>
<polyline points="414.5,384.5 472.5,384.5" fill="none" stroke="#000" stroke-width="1.1"/>
<circle cx="401.4" cy="384.2" r="1.75"/>
<polyline points="410.5,377.5 410.5,390.5" fill="none" stroke="#000" stroke-width="1.2"/>
<polyline points="413.5,377.5 413.5,390.5" fill="none" stroke="#000" stroke-width="1.2"/>
<text x="415" y="381" font-size="5.4" letter-spacing="0.55" font-weight="bold">C13</text>
<polyline points="492.5,327.5 492.5,581.5" fill="none" stroke="#000" stroke-width="1.1"/>
<rect x="489.5" y="348.5" width="6" height="15" fill="#fff" stroke="#000" stroke-width="1.1"/>
<text x="496" y="357.5" font-size="5.4" letter-spacing="0.55" font-weight="bold">R32</text>
<rect x="518.5" y="348.5" width="6" height="15" fill="#fff" stroke="#000" stroke-width="1.1"/>
<text x="527" y="356" font-size="5.4" letter-spacing="0.55" font-weight="bold">R33</text>
<polyline points="521.5,363.5 521.5,406.5" fill="none" stroke="#000" stroke-width="1.1"/>
<circle cx="521.2" cy="394.3" r="1.75"/>
<text x="528" y="391" font-size="5.4" letter-spacing="0.55" font-weight="bold">46</text>
<circle cx="423.2" cy="421.2" r="9.3" fill="none" stroke="#000" stroke-width="1.0"/>
<polyline points="420.5,415.5 420.5,426.5" fill="none" stroke="#000" stroke-width="1.3"/>
<polyline points="420.5,421.5 413.5,421.5" fill="none" stroke="#000" stroke-width="1.1"/>
<polyline points="420.5,418.5 427.5,413.5 427.5,411.5" fill="none" stroke="#000" stroke-width="1.1"/>
<polyline points="420.5,423.5 427.5,428.5 427.5,431.5" fill="none" stroke="#000" stroke-width="1.1"/>
<circle cx="425.3" cy="427" r="1.1"/>
<text x="434" y="423.5" font-size="5.4" letter-spacing="0.55" font-weight="bold">VT8</text>
<polyline points="427.5,430.5 427.5,581.5" fill="none" stroke="#000" stroke-width="1.1"/>
<circle cx="467.3" cy="402.2" r="9.3" fill="none" stroke="#000" stroke-width="1.0"/>
<polyline points="464.5,396.5 464.5,407.5" fill="none" stroke="#000" stroke-width="1.3"/>
<polyline points="464.5,402.5 458.5,402.5" fill="none" stroke="#000" stroke-width="1.1"/>
<polyline points="464.5,399.5 472.5,394.5 472.5,392.5" fill="none" stroke="#000" stroke-width="1.1"/>
<polyline points="464.5,404.5 472.5,409.5 472.5,412.5" fill="none" stroke="#000" stroke-width="1.1"/>
<circle cx="469.7" cy="407.8" r="1.1"/>
<text x="479" y="401.5" font-size="5.4" letter-spacing="0.55" font-weight="bold">VT9</text>
<polyline points="472.5,411.5 472.5,415.5 507.5,415.5" fill="none" stroke="#000" stroke-width="1.1"/>
<circle cx="480.2" cy="415.9" r="1.75"/>
<circle cx="492.4" cy="415.9" r="1.75"/>
<text x="483" y="413.5" font-size="5.4" letter-spacing="0.55" font-weight="bold">47</text>
<circle cx="516.7" cy="416.2" r="9.3" fill="none" stroke="#000" stroke-width="1.0"/>
<polyline points="514.5,410.5 514.5,421.5" fill="none" stroke="#000" stroke-width="1.3"/>
<polyline points="514.5,416.5 507.5,416.5" fill="none" stroke="#000" stroke-width="1.1"/>
<polyline points="514.5,413.5 521.5,408.5 521.5,406.5" fill="none" stroke="#000" stroke-width="1.1"/>
<polyline points="514.5,418.5 521.5,423.5 521.5,426.5" fill="none" stroke="#000" stroke-width="1.1"/>
<circle cx="518.9" cy="422" r="1.1"/>
<text x="505" y="406.5" font-size="5.4" letter-spacing="0.55" font-weight="bold">VT10</text>
<polyline points="521.5,425.5 521.5,581.5" fill="none" stroke="#000" stroke-width="1.1"/>
<polyline points="480.5,415.5 480.5,599.5 599.5,599.5" fill="none" stroke="#000" stroke-width="1.1"/>
<circle cx="600.5" cy="599.1" r="1.5" fill="#fff" stroke="#000" stroke-width="0.9"/>
<polyline points="597.5,601.5 603.5,596.5" fill="none" stroke="#000" stroke-width="0.8"/>
<text x="598" y="595" font-size="5.4" letter-spacing="0.55" font-weight="bold">66</text>
<polygon points="477.6,503.6 482.8,503.6 480.2,498.4" fill="#fff" stroke="#000" stroke-width="1"/>
<polyline points="476.3,498.4 484.1,498.4" fill="none" stroke="#000" stroke-width="1.2"/>
<polyline points="476.3,503.6 484.1,503.6" fill="none" stroke="#000" stroke-width="1.2"/>
<polygon points="489.8,498.4 495,498.4 492.4,503.6" fill="#fff" stroke="#000" stroke-width="1"/>
<polyline points="488.5,503.6 496.3,503.6" fill="none" stroke="#000" stroke-width="1.2"/>
<polyline points="488.5,498.4 496.3,498.4" fill="none" stroke="#000" stroke-width="1.2"/>
<text x="458" y="504" font-size="5.4" letter-spacing="0.55" font-weight="bold">VD32</text>
<text x="496" y="504" font-size="5.4" letter-spacing="0.55" font-weight="bold">VD29</text>
<polyline points="521.5,394.5 593.5,394.5" fill="none" stroke="#000" stroke-width="1.1"/>
<circle cx="531.9" cy="394.3" r="1.75"/>
<circle cx="555" cy="394.3" r="1.75"/>
<circle cx="594.9" cy="394.3" r="1.5" fill="#fff" stroke="#000" stroke-width="0.9"/>
<polyline points="591.5,396.5 597.5,392.5" fill="none" stroke="#000" stroke-width="0.8"/>
<text x="593" y="390.5" font-size="5.4" letter-spacing="0.55" font-weight="bold">46</text>
<circle cx="577.6" cy="394.3" r="1.3" fill="#fff" stroke="#000" stroke-width="0.9"/>
<polyline points="574.5,396.5 580.5,392.5" fill="none" stroke="#000" stroke-width="0.8"/>
<polyline points="531.5,394.5 531.5,615.5 488.5,615.5" fill="none" stroke="#000" stroke-width="1.1"/>
<polyline points="554.5,394.5 554.5,581.5" fill="none" stroke="#000" stroke-width="1.1"/>
<rect x="552.6" y="488" width="4" height="1.2" fill="#fff"/>
<rect x="547.6" y="484.8" width="14" height="2.6"/>
<rect x="547.5" y="489.5" width="14" height="3" fill="#fff" stroke="#000" stroke-width="0.9"/>
<text x="557" y="483" font-size="5.4" letter-spacing="0.55" font-weight="bold">C16</text>
<polyline points="655.5,256.5 655.5,303.5 577.5,303.5 577.5,581.5" fill="none" stroke="#000" stroke-width="1.1"/>
<circle cx="577.6" cy="472.2" r="1.75"/>
<rect x="574.5" y="480.5" width="6" height="15" fill="#fff" stroke="#000" stroke-width="1.1"/>
<polyline points="577.5,472.5 587.5,472.5 587.5,488.5 581.5,488.5" fill="none" stroke="#000" stroke-width="1.1"/>
<polygon points="583,486.9 583,489.5 580.8,488.2"/>
<text x="585" y="496" font-size="5.4" letter-spacing="0.55" font-weight="bold">R34</text>
<circle cx="424.2" cy="615.3" r="1.75"/>
<rect x="432.5" y="612.5" width="16" height="6" fill="#fff" stroke="#000" stroke-width="1.1"/>
<text x="437" y="610.5" font-size="5.4" letter-spacing="0.55" font-weight="bold">R35</text>
<polyline points="424.5,615.5 424.5,625.5 440.5,625.5 440.5,619.5" fill="none" stroke="#000" stroke-width="1.1"/>
<polygon points="439.3,620.8 441.9,620.8 440.6,618.6"/>
<polyline points="448.5,615.5 481.5,615.5" fill="none" stroke="#000" stroke-width="1.1"/>
<circle cx="466.9" cy="615.3" r="1.75"/>
<text x="466" y="612" font-size="5.4" letter-spacing="0.55" font-weight="bold">50</text>
<rect x="481.5" y="609.5" width="3" height="12" fill="#fff" stroke="#000" stroke-width="0.9"/>
<rect x="486" y="609.5" width="2.4" height="12.1"/>
<text x="491" y="611.5" font-size="5.4" letter-spacing="0.55" font-weight="bold">C15</text>
<circle cx="253.2" cy="28.5" r="1.5" fill="#fff" stroke="#000" stroke-width="0.9"/>
<polyline points="250.5,31.5 255.5,26.5" fill="none" stroke="#000" stroke-width="0.8"/>
<text x="245" y="26.5" font-size="5.4" letter-spacing="0.55" font-weight="bold">57</text>
<polyline points="254.5,28.5 270.5,28.5" fill="none" stroke="#000" stroke-width="1.1"/>
<polygon points="263.8,26.2 263.8,30.8 259.2,28.5" fill="#fff" stroke="#000" stroke-width="1"/>
<polyline points="259.2,25.1 259.2,31.9" fill="none" stroke="#000" stroke-width="1.2"/>
<circle cx="267.2" cy="28.5" r="1.75"/>
<text x="254" y="21.5" font-size="5.4" letter-spacing="0.55" font-weight="bold">VD31</text>
<text x="264" y="35.5" font-size="5.4" letter-spacing="0.55" font-weight="bold">21</text>
<rect x="270.5" y="25.5" width="16" height="6" fill="#fff" stroke="#000" stroke-width="1.1"/>
<text x="275" y="22" font-size="5.4" letter-spacing="0.55" font-weight="bold">R7</text>
<polyline points="286.5,28.5 295.5,28.5" fill="none" stroke="#000" stroke-width="1.1"/>
<path d="M295.2,28.5 A3.3,3.3 0 0 1 295.2,35.2 A3.3,3.3 0 0 1 295.2,41.9 A3.3,3.3 0 0 1 295.2,48.5 A3.3,3.3 0 0 1 295.2,55.2 A3.3,3.3 0 0 1 295.2,61.9" fill="none" stroke="#000" stroke-width="0.9"/>
<polyline points="295.5,61.5 254.5,61.5" fill="none" stroke="#000" stroke-width="1.1"/>
<circle cx="253.2" cy="61.9" r="1.5" fill="#fff" stroke="#000" stroke-width="0.9"/>
<polyline points="250.5,64.5 255.5,59.5" fill="none" stroke="#000" stroke-width="0.8"/>
<polyline points="301.5,31.5 301.5,59.5" fill="none" stroke="#000" stroke-width="1.0"/>
<circle cx="301.8" cy="28.5" r="1.2"/>
<circle cx="301.8" cy="62" r="1.2"/>
<text x="297" y="23" font-size="5.4" letter-spacing="0.55" font-weight="bold">TV2</text>
<path d="M308.4,26.5 A3.2,3.2 0 0 0 308.4,32.9 A3.2,3.2 0 0 0 308.4,39.2 A3.2,3.2 0 0 0 308.4,45.6 A3.2,3.2 0 0 0 308.4,52" fill="none" stroke="#000" stroke-width="0.9"/>
<polyline points="308.5,52.5 308.5,256.5" fill="none" stroke="#000" stroke-width="1.1"/>
<circle cx="308.4" cy="61.6" r="1.75"/>
<text x="310" y="67.5" font-size="5.4" letter-spacing="0.55" font-weight="bold">24</text>
<polyline points="308.5,26.5 327.5,26.5" fill="none" stroke="#000" stroke-width="1.1"/>
<circle cx="322" cy="26.5" r="1.75"/>
<polyline points="308.5,61.5 322.5,61.5 322.5,16.5 393.5,16.5 393.5,26.5" fill="none" stroke="#000" stroke-width="1.1"/>
<polygon points="319.4,41.4 324.6,41.4 322,46.6" fill="#fff" stroke="#000" stroke-width="1"/>
<polyline points="318.1,46.6 325.9,46.6" fill="none" stroke="#000" stroke-width="1.2"/>
<text x="326.5" y="46" font-size="5.4" letter-spacing="0.55" font-weight="bold">VD17</text>
<circle cx="329" cy="26.5" r="1.5" fill="#fff" stroke="#000" stroke-width="0.9"/>
<polyline points="326.5,29.5 331.5,24.5" fill="none" stroke="#000" stroke-width="0.8"/>
<circle cx="337.2" cy="26.5" r="1.5" fill="#fff" stroke="#000" stroke-width="0.9"/>
<polyline points="334.5,29.5 339.5,24.5" fill="none" stroke="#000" stroke-width="0.8"/>
<polyline points="338.5,26.5 358.5,26.5" fill="none" stroke="#000" stroke-width="1.1"/>
<polygon points="347.7,24.2 347.7,28.8 343.1,26.5" fill="#fff" stroke="#000" stroke-width="1"/>
<polyline points="343.1,23.1 343.1,29.9" fill="none" stroke="#000" stroke-width="1.2"/>
<circle cx="352.8" cy="26.5" r="1.75"/>
<text x="339" y="22.8" font-size="5.4" letter-spacing="0.55" font-weight="bold">VD30</text>
<text x="348" y="34" font-size="5.4" letter-spacing="0.55" font-weight="bold">22</text>
<rect x="358.5" y="23.5" width="16" height="6" fill="#fff" stroke="#000" stroke-width="1.1"/>
<text x="362" y="21.5" font-size="5.4" letter-spacing="0.55" font-weight="bold">R10</text>
<polyline points="374.5,26.5 380.5,26.5" fill="none" stroke="#000" stroke-width="1.1"/>
<circle cx="380.9" cy="26.5" r="1.75"/>
<path d="M380.9,27 A3,3 0 0 1 380.9,33 A3,3 0 0 1 380.9,39 A3,3 0 0 1 380.9,45 A3,3 0 0 1 380.9,51" fill="none" stroke="#000" stroke-width="0.9"/>
<polyline points="380.5,51.5 380.5,54.5 339.5,54.5" fill="none" stroke="#000" stroke-width="1.1"/>
<circle cx="337.5" cy="54.2" r="1.5" fill="#fff" stroke="#000" stroke-width="0.9"/>
<polyline points="334.5,56.5 340.5,52.5" fill="none" stroke="#000" stroke-width="0.8"/>
<polyline points="386.5,31.5 386.5,49.5" fill="none" stroke="#000" stroke-width="1.1"/>
<polygon points="384.6,54.2 389,54.2 386.8,57"/>
<path d="M393.6,27 A3,3 0 0 0 393.6,33 A3,3 0 0 0 393.6,39 A3,3 0 0 0 393.6,45 A3,3 0 0 0 393.6,51" fill="none" stroke="#000" stroke-width="0.9"/>
<text x="380.5" y="24.3" font-size="5.4" letter-spacing="0.55" font-weight="bold">TV3</text>
<polyline points="393.5,51.5 393.5,256.5" fill="none" stroke="#000" stroke-width="1.1"/>
<circle cx="393.6" cy="54.2" r="1.75"/>
<text x="395" y="61" font-size="5.4" letter-spacing="0.55" font-weight="bold">25</text>
<polyline points="393.5,26.5 583.5,26.5" fill="none" stroke="#000" stroke-width="1.1"/>
<circle cx="393.6" cy="26.5" r="1.75"/>
<circle cx="402.6" cy="26.5" r="1.75"/>
<polyline points="402.5,26.5 402.5,54.5 393.5,54.5" fill="none" stroke="#000" stroke-width="1.1"/>
<polygon points="400,37.7 405.2,37.7 402.6,42.9" fill="#fff" stroke="#000" stroke-width="1"/>
<polyline points="398.7,42.9 406.5,42.9" fill="none" stroke="#000" stroke-width="1.2"/>
<text x="407" y="42.5" font-size="5.4" letter-spacing="0.55" font-weight="bold">VD18</text>
<circle cx="499.6" cy="26.5" r="1.75"/>
<polyline points="499.5,26.5 499.5,43.5" fill="none" stroke="#000" stroke-width="1.1"/>
<rect x="496.5" y="43.5" width="6" height="15" fill="#fff" stroke="#000" stroke-width="1.1"/>
<circle cx="521.4" cy="26.5" r="1.75"/>
<polyline points="521.5,26.5 521.5,43.5" fill="none" stroke="#000" stroke-width="1.1"/>
<rect x="518.5" y="43.5" width="6" height="15" fill="#fff" stroke="#000" stroke-width="1.1"/>
<circle cx="564.6" cy="26.5" r="1.75"/>
<polyline points="564.5,26.5 564.5,43.5" fill="none" stroke="#000" stroke-width="1.1"/>
<rect x="561.5" y="43.5" width="6" height="15" fill="#fff" stroke="#000" stroke-width="1.1"/>
<text x="503" y="41.5" font-size="5.4" letter-spacing="0.55" font-weight="bold">R15</text>
<text x="525" y="41.5" font-size="5.4" letter-spacing="0.55" font-weight="bold">R16</text>
<text x="568.5" y="51.5" font-size="5.4" letter-spacing="0.55" font-weight="bold">R18</text>
<text x="521" y="23" font-size="5.4" letter-spacing="0.55" font-weight="bold">23</text>
<polyline points="499.5,58.5 499.5,113.5" fill="none" stroke="#000" stroke-width="1.1"/>
<polyline points="521.5,58.5 521.5,146.5" fill="none" stroke="#000" stroke-width="1.1"/>
<polyline points="564.5,58.5 564.5,113.5" fill="none" stroke="#000" stroke-width="1.1"/>
<polyline points="583.5,26.5 583.5,150.5 486.5,150.5 486.5,185.5 442.5,185.5" fill="none" stroke="#000" stroke-width="1.1"/>
<polyline points="564.5,91.5 558.5,91.5" fill="none" stroke="#000" stroke-width="1.1"/>
<polyline points="556.5,91.5 550.5,91.5 550.5,122.5" fill="none" stroke="#000" stroke-width="1.1"/>
<polyline points="556.5,85.5 556.5,98.5" fill="none" stroke="#000" stroke-width="1.2"/>
<polyline points="558.5,85.5 558.5,98.5" fill="none" stroke="#000" stroke-width="1.2"/>
<circle cx="564.6" cy="91.9" r="1.75"/>
<circle cx="550.3" cy="107.5" r="1.75"/>
<text x="554" y="84" font-size="5.4" letter-spacing="0.55" font-weight="bold">C9</text>
<text x="567" y="93.5" font-size="5.4" letter-spacing="0.55" font-weight="bold">37</text>
<text x="552.5" y="111.5" font-size="5.4" letter-spacing="0.55" font-weight="bold">36</text>
<polyline points="507.5,122.5 527.5,122.5" fill="none" stroke="#000" stroke-width="1.1"/>
<rect x="527.5" y="119.5" width="15" height="6" fill="#fff" stroke="#000" stroke-width="1.1"/>
<polyline points="542.5,122.5 550.5,122.5" fill="none" stroke="#000" stroke-width="1.1"/>
<circle cx="521.4" cy="122.6" r="1.75"/>
<text x="531" y="117.5" font-size="5.4" letter-spacing="0.55" font-weight="bold">R17</text>
<text x="521" y="132.5" font-size="5.4" letter-spacing="0.55" font-weight="bold">35</text>
<polygon points="518.9,135.3 523.9,135.3 521.4,140.3" fill="#fff" stroke="#000" stroke-width="1"/>
<polyline points="517.6,140.3 525.1,140.3" fill="none" stroke="#000" stroke-width="1.2"/>
<text x="525.5" y="140.5" font-size="5.4" letter-spacing="0.55" font-weight="bold">VD20</text>
<circle cx="521.4" cy="146.3" r="1.75"/>
<circle cx="499.6" cy="146.3" r="1.75"/>
<text x="510" y="145.7" font-size="5.4" letter-spacing="0.55" font-weight="bold">28</text>
<circle cx="504.3" cy="122.9" r="9.3" fill="none" stroke="#000" stroke-width="1.0"/>
<polyline points="506.5,117.5 506.5,128.5" fill="none" stroke="#000" stroke-width="1.3"/>
<polyline points="506.5,122.5 513.5,122.5" fill="none" stroke="#000" stroke-width="1.1"/>
<polyline points="506.5,120.5 499.5,115.5 499.5,113.5" fill="none" stroke="#000" stroke-width="1.1"/>
<polyline points="506.5,125.5 499.5,130.5 499.5,132.5" fill="none" stroke="#000" stroke-width="1.1"/>
<circle cx="502.1" cy="128.7" r="1.1"/>
<text x="503" y="111" font-size="5.4" letter-spacing="0.55" font-weight="bold">VT5</text>
<circle cx="569.8" cy="122.9" r="9.3" fill="none" stroke="#000" stroke-width="1.0"/>
<polyline points="572.5,117.5 572.5,128.5" fill="none" stroke="#000" stroke-width="1.3"/>
<polyline points="572.5,122.5 579.5,122.5" fill="none" stroke="#000" stroke-width="1.1"/>
<polyline points="572.5,120.5 564.5,115.5 564.5,113.5" fill="none" stroke="#000" stroke-width="1.1"/>
<polyline points="572.5,125.5 564.5,130.5 564.5,132.5" fill="none" stroke="#000" stroke-width="1.1"/>
<circle cx="567.3" cy="128.5" r="1.1"/>
<text x="566" y="111" font-size="5.4" letter-spacing="0.55" font-weight="bold">VT6</text>
<polyline points="499.5,132.5 499.5,146.5" fill="none" stroke="#000" stroke-width="1.1"/>
<polyline points="564.5,132.5 564.5,146.5 483.5,146.5 483.5,180.5 437.5,180.5 437.5,256.5" fill="none" stroke="#000" stroke-width="1.1"/>
<polyline points="579.5,122.5 629.5,122.5 629.5,175.5 652.5,175.5" fill="none" stroke="#000" stroke-width="1.1"/>
<polyline points="377.5,137.5 377.5,92.5 499.5,92.5" fill="none" stroke="#000" stroke-width="1.1"/>
<circle cx="479.6" cy="92.4" r="1.75"/>
<circle cx="499.6" cy="92.4" r="1.75"/>
<polygon points="486.4,90 486.4,94.8 491.2,92.4" fill="#fff" stroke="#000" stroke-width="1"/>
<polyline points="491.2,88.8 491.2,96" fill="none" stroke="#000" stroke-width="1.2"/>
<text x="472" y="90" font-size="5.4" letter-spacing="0.55" font-weight="bold">33</text>
<text x="482" y="87" font-size="5.4" letter-spacing="0.55" font-weight="bold">VD19</text>
<text x="502.5" y="94.5" font-size="5.4" letter-spacing="0.55" font-weight="bold">34</text>
<polyline points="377.5,137.5 386.5,137.5 386.5,166.5" fill="none" stroke="#000" stroke-width="1.1"/>
<circle cx="398" cy="118" r="9.3" fill="none" stroke="#000" stroke-width="1.0"/>
<polyline points="400.5,112.5 400.5,123.5" fill="none" stroke="#000" stroke-width="1.3"/>
<polyline points="400.5,118.5 407.5,118.5" fill="none" stroke="#000" stroke-width="1.1"/>
<polyline points="400.5,115.5 393.5,110.5 393.5,108.5" fill="none" stroke="#000" stroke-width="1.1"/>
<polyline points="400.5,120.5 393.5,125.5 393.5,127.5" fill="none" stroke="#000" stroke-width="1.1"/>
<circle cx="396" cy="123.9" r="1.1"/>
<text x="398" y="106" font-size="5.4" letter-spacing="0.55" font-weight="bold">VT3</text>
<polyline points="407.5,118.5 462.5,118.5" fill="none" stroke="#000" stroke-width="1.1"/>
<circle cx="416.5" cy="118" r="1.75"/>
<circle cx="431.8" cy="118" r="1.75"/>
<circle cx="446.6" cy="118" r="1.75"/>
<text x="432" y="114" font-size="5.4" letter-spacing="0.55" font-weight="bold">30</text>
<rect x="413.5" y="144.5" width="6" height="15" fill="#fff" stroke="#000" stroke-width="1.1"/>
<polyline points="416.5,118.5 416.5,144.5" fill="none" stroke="#000" stroke-width="1.1"/>
<polyline points="416.5,159.5 416.5,192.5" fill="none" stroke="#000" stroke-width="1.1"/>
<circle cx="416.5" cy="175.4" r="1.75"/>
<text x="418.5" y="142.5" font-size="5.4" letter-spacing="0.55" font-weight="bold">R12</text>
<text x="419.5" y="177.5" font-size="5.4" letter-spacing="0.55" font-weight="bold">31</text>
<path d="M416.5,192.4 A3,3 0 0 1 416.5,198.4 A3,3 0 0 1 416.5,204.5 A3,3 0 0 1 416.5,210.5" fill="none" stroke="#000" stroke-width="0.9"/>
<polyline points="416.5,210.5 416.5,256.5" fill="none" stroke="#000" stroke-width="1.1"/>
<polyline points="410.5,192.5 410.5,211.5" fill="none" stroke="#000" stroke-width="1.0"/>
<circle cx="411.7" cy="212.3" r="1.1"/>
<text x="422" y="205.5" font-size="5.4" letter-spacing="0.55" font-weight="bold">TV4</text>
<rect x="428.5" y="144.5" width="6" height="15" fill="#fff" stroke="#000" stroke-width="1.1"/>
<polyline points="431.5,118.5 431.5,144.5" fill="none" stroke="#000" stroke-width="1.1"/>
<polyline points="431.5,159.5 431.5,256.5" fill="none" stroke="#000" stroke-width="1.1"/>
<text x="433" y="142.5" font-size="5.4" letter-spacing="0.55" font-weight="bold">R13</text>
<polyline points="446.5,118.5 446.5,163.5" fill="none" stroke="#000" stroke-width="1.1"/>
<path d="M446.6,163.2 A3,3 0 0 0 452.7,163.2 A3,3 0 0 0 458.8,163.2 A3,3 0 0 0 464.9,163.2 A3,3 0 0 0 471,163.2" fill="none" stroke="#000" stroke-width="0.9"/>
<polyline points="471.5,163.5 471.5,153.5" fill="none" stroke="#000" stroke-width="1.1"/>
<circle cx="471.3" cy="158.3" r="1.75"/>
<rect x="468.5" y="137.5" width="6" height="16" fill="#fff" stroke="#000" stroke-width="1.1"/>
<polyline points="471.5,131.5 471.5,137.5" fill="none" stroke="#000" stroke-width="1.1"/>
<circle cx="471.3" cy="134.8" r="1.0"/>
<polyline points="449.5,169.5 468.5,169.5" fill="none" stroke="#000" stroke-width="1.0"/>
<circle cx="446.8" cy="167.4" r="1.1"/>
<text x="454" y="159" font-size="5.4" letter-spacing="0.55" font-weight="bold">TV2</text>
<text x="441" y="175" font-size="5.4" letter-spacing="0.55" font-weight="bold">H6</text>
<text x="473" y="170.5" font-size="5.4" letter-spacing="0.55" font-weight="bold">K6</text>
<text x="474" y="160.5" font-size="5.4" letter-spacing="0.55" font-weight="bold">32</text>
<text x="476" y="144.5" font-size="5.4" letter-spacing="0.55" font-weight="bold">R14</text>
<text x="474" y="136.5" font-size="5.4" letter-spacing="0.55" font-weight="bold">34</text>
<circle cx="471.8" cy="122.5" r="9.3" fill="none" stroke="#000" stroke-width="1.0"/>
<polyline points="464.5,124.5 478.5,124.5" fill="none" stroke="#000" stroke-width="1.3"/>
<polyline points="471.5,124.5 471.5,132.5" fill="none" stroke="#000" stroke-width="1.1"/>
<polyline points="467.5,124.5 463.5,118.5" fill="none" stroke="#000" stroke-width="1.1"/>
<polyline points="475.5,124.5 480.5,118.5" fill="none" stroke="#000" stroke-width="1.1"/>
<circle cx="465.8" cy="121.5" r="1.1"/>
<text x="467" y="110.5" font-size="5.4" letter-spacing="0.55" font-weight="bold">VT4</text>
<polyline points="480.5,118.5 479.5,92.5" fill="none" stroke="#000" stroke-width="1.1"/>
<circle cx="312.2" cy="176.6" r="9.3" fill="none" stroke="#000" stroke-width="1.0"/>
<polyline points="314.5,171.5 314.5,182.5" fill="none" stroke="#000" stroke-width="1.3"/>
<polyline points="314.5,176.5 321.5,176.5" fill="none" stroke="#000" stroke-width="1.1"/>
<polyline points="314.5,174.5 308.5,168.5 308.5,166.5" fill="none" stroke="#000" stroke-width="1.1"/>
<polyline points="314.5,179.5 308.5,184.5 308.5,186.5" fill="none" stroke="#000" stroke-width="1.1"/>
<circle cx="310.7" cy="182.7" r="1.1"/>
<text x="312" y="163.5" font-size="5.4" letter-spacing="0.55" font-weight="bold">VT1</text>
<polyline points="321.5,176.5 329.5,176.5 329.5,168.5 372.5,168.5" fill="none" stroke="#000" stroke-width="1.1"/>
<circle cx="329.5" cy="176.6" r="1.75"/>
<circle cx="341.9" cy="168.3" r="1.75"/>
<circle cx="353.9" cy="168.3" r="1.75"/>
<rect x="326.5" y="188.5" width="6" height="15" fill="#fff" stroke="#000" stroke-width="1.1"/>
<polyline points="329.5,176.5 329.5,188.5" fill="none" stroke="#000" stroke-width="1.1"/>
<polyline points="329.5,203.5 329.5,212.5" fill="none" stroke="#000" stroke-width="1.1"/>
<circle cx="329.5" cy="209.2" r="1.75"/>
<text x="318" y="200" font-size="5.4" letter-spacing="0.55" font-weight="bold">R8</text>
<text x="333" y="211" font-size="5.4" letter-spacing="0.55" font-weight="bold">27</text>
<path d="M329.5,212 A3.5,3.5 0 0 1 329.5,219 A3.5,3.5 0 0 1 329.5,226 A3.5,3.5 0 0 1 329.5,233" fill="none" stroke="#000" stroke-width="0.9"/>
<polyline points="329.5,233.5 329.5,256.5" fill="none" stroke="#000" stroke-width="1.1"/>
<polyline points="323.5,214.5 323.5,235.5" fill="none" stroke="#000" stroke-width="1.0"/>
<circle cx="325" cy="234.7" r="1.1"/>
<text x="329" y="221.5" font-size="5.4" letter-spacing="0.55" font-weight="bold">TV2</text>
<rect x="338.5" y="176.5" width="6" height="16" fill="#fff" stroke="#000" stroke-width="1.1"/>
<polyline points="341.5,192.5 341.5,292.5 321.5,292.5 321.5,322.5 194.5,322.5" fill="none" stroke="#000" stroke-width="1.1"/>
<text x="345" y="185.5" font-size="5.4" letter-spacing="0.55" font-weight="bold">R9</text>
<text x="354" y="165" font-size="5.4" letter-spacing="0.55" font-weight="bold">26</text>
<polyline points="353.5,168.5 353.5,220.5" fill="none" stroke="#000" stroke-width="1.1"/>
<path d="M353.9,220.7 A3.1,3.1 0 0 0 360,220.7 A3.1,3.1 0 0 0 366.1,220.7 A3.1,3.1 0 0 0 372.2,220.7 A3.1,3.1 0 0 0 378.3,220.7" fill="none" stroke="#000" stroke-width="0.9"/>
<polyline points="378.5,220.5 379.5,214.5" fill="none" stroke="#000" stroke-width="1.1"/>
<circle cx="379" cy="214.5" r="1.75"/>
<polyline points="357.5,227.5 376.5,227.5" fill="none" stroke="#000" stroke-width="1.0"/>
<circle cx="378.6" cy="224.3" r="1.1"/>
<text x="360" y="216.5" font-size="5.4" letter-spacing="0.55" font-weight="bold">TV1</text>
<text x="346" y="228.5" font-size="5.4" letter-spacing="0.55" font-weight="bold">K5</text>
<text x="382.5" y="226.5" font-size="5.4" letter-spacing="0.55" font-weight="bold">H5</text>
<text x="383" y="216" font-size="5.4" letter-spacing="0.55" font-weight="bold">29</text>
<rect x="375.5" y="192.5" width="7" height="15" fill="#fff" stroke="#000" stroke-width="1.1"/>
<polyline points="379.5,207.5 379.5,214.5" fill="none" stroke="#000" stroke-width="1.1"/>
<text x="381" y="193.5" font-size="5.4" letter-spacing="0.55" font-weight="bold">R11</text>
<circle cx="379" cy="173" r="9.3" fill="none" stroke="#000" stroke-width="1.0"/>
<polyline points="376.5,167.5 376.5,178.5" fill="none" stroke="#000" stroke-width="1.3"/>
<polyline points="369.5,173.5 376.5,173.5" fill="none" stroke="#000" stroke-width="1.1"/>
<polyline points="376.5,170.5 386.5,166.5 386.5,163.5" fill="none" stroke="#000" stroke-width="1.1"/>
<polyline points="376.5,175.5 379.5,182.5 379.5,192.5" fill="none" stroke="#000" stroke-width="1.1"/>
<circle cx="377.8" cy="179.8" r="1.1"/>
<text x="373" y="160.5" font-size="5.4" letter-spacing="0.55" font-weight="bold">VT2</text>
<polyline points="386.5,163.5 386.5,166.5" fill="none" stroke="#000" stroke-width="1.1"/>
<polyline points="308.5,256.5 437.5,256.5" fill="none" stroke="#000" stroke-width="1.1"/>
<circle cx="329.5" cy="256.3" r="1.75"/>
<circle cx="378.6" cy="256.3" r="1.75"/>
<circle cx="393.6" cy="256.3" r="1.75"/>
<circle cx="416.5" cy="256.3" r="1.75"/>
<text x="331" y="253" font-size="5.4" letter-spacing="0.55" font-weight="bold">28</text>
<text x="418.5" y="255" font-size="5.4" letter-spacing="0.55" font-weight="bold">28</text>
<polyline points="641.5,245.5 641.5,96.5 836.5,96.5 836.5,103.5" fill="none" stroke="#000" stroke-width="1.1"/>
<circle cx="652.1" cy="96.1" r="1.75"/>
<circle cx="669.4" cy="96.1" r="1.75"/>
<circle cx="771.3" cy="96.1" r="1.75"/>
<circle cx="804.6" cy="96.1" r="1.75"/>
<polyline points="652.5,96.5 652.5,189.5 669.5,189.5" fill="none" stroke="#000" stroke-width="1.1"/>
<rect x="650.1" y="118.8" width="4" height="1" fill="#fff"/>
<polyline points="645.5,118.5 659.5,118.5" fill="none" stroke="#000" stroke-width="1.2"/>
<polyline points="645.5,120.5 659.5,120.5" fill="none" stroke="#000" stroke-width="1.2"/>
<text x="653.5" y="102" font-size="5.4" letter-spacing="0.55" font-weight="bold">38</text>
<text x="653.5" y="117" font-size="5.4" letter-spacing="0.55" font-weight="bold">C10</text>
<text x="653.5" y="173.5" font-size="5.4" letter-spacing="0.55" font-weight="bold">39</text>
<circle cx="652.1" cy="175.6" r="1.75"/>
<circle cx="673.5" cy="177" r="9.3" fill="none" stroke="#000" stroke-width="1.0"/>
<polyline points="676.5,171.5 676.5,182.5" fill="none" stroke="#000" stroke-width="1.3"/>
<polyline points="676.5,177.5 682.5,177.5" fill="none" stroke="#000" stroke-width="1.1"/>
<polyline points="676.5,174.5 669.5,169.5 669.5,167.5" fill="none" stroke="#000" stroke-width="1.1"/>
<polyline points="676.5,179.5 669.5,184.5 669.5,186.5" fill="none" stroke="#000" stroke-width="1.1"/>
<circle cx="671.7" cy="183" r="1.1"/>
<text x="670" y="166" font-size="5.4" letter-spacing="0.55" font-weight="bold">VT7</text>
<polyline points="669.5,96.5 669.5,167.5" fill="none" stroke="#000" stroke-width="1.1"/>
<polyline points="683.5,177.5 710.5,177.5" fill="none" stroke="#000" stroke-width="1.1"/>
<circle cx="696.3" cy="177" r="1.75"/>
<text x="697.5" y="184.5" font-size="5.4" letter-spacing="0.55" font-weight="bold">41</text>
<rect x="710.5" y="174.5" width="15" height="6" fill="#fff" stroke="#000" stroke-width="1.1"/>
<text x="713" y="172" font-size="5.4" letter-spacing="0.55" font-weight="bold">R22</text>
<polyline points="725.5,177.5 804.5,177.5" fill="none" stroke="#000" stroke-width="1.1"/>
<circle cx="741.9" cy="177.2" r="1.75"/>
<circle cx="804.6" cy="177.2" r="1.75"/>
<text x="737" y="185.2" font-size="5.4" letter-spacing="0.55" font-weight="bold">42</text>
<text x="806.5" y="175.5" font-size="5.4" letter-spacing="0.55" font-weight="bold">44</text>
<polygon points="754,174.7 754,179.7 749,177.2" fill="#fff" stroke="#000" stroke-width="1"/>
<polyline points="749,173.4 749,180.9" fill="none" stroke="#000" stroke-width="1.2"/>
<text x="746" y="172" font-size="5.4" letter-spacing="0.55" font-weight="bold">VD22</text>
<polyline points="741.5,177.5 741.5,152.5 771.5,152.5" fill="none" stroke="#000" stroke-width="1.1"/>
<polygon points="754,149.5 754,154.5 749,152" fill="#fff" stroke="#000" stroke-width="1"/>
<polyline points="749,148.2 749,155.8" fill="none" stroke="#000" stroke-width="1.2"/>
<circle cx="771.3" cy="152" r="1.75"/>
<text x="743" y="147.5" font-size="5.4" letter-spacing="0.55" font-weight="bold">VD21</text>
<text x="773.5" y="152.8" font-size="5.4" letter-spacing="0.55" font-weight="bold">43</text>
<path d="M771.3,103 A3.2,3.2 0 0 1 771.3,109.3 A3.2,3.2 0 0 1 771.3,115.7 A3.2,3.2 0 0 1 771.3,122" fill="none" stroke="#000" stroke-width="0.9"/>
<polyline points="771.5,96.5 771.5,103.5" fill="none" stroke="#000" stroke-width="1.1"/>
<polyline points="771.5,122.5 771.5,200.5" fill="none" stroke="#000" stroke-width="1.1"/>
<polyline points="765.5,103.5 765.5,123.5" fill="none" stroke="#000" stroke-width="1.0"/>
<circle cx="767.5" cy="123.6" r="1.1"/>
<text x="760" y="102.5" font-size="5.4" letter-spacing="0.55" font-weight="bold">K7</text>
<text x="773.5" y="106.5" font-size="5.4" letter-spacing="0.55" font-weight="bold">TV1</text>
<text x="761" y="132" font-size="5.4" letter-spacing="0.55" font-weight="bold">H7</text>
<polyline points="804.5,96.5 804.5,107.5" fill="none" stroke="#000" stroke-width="1.1"/>
<rect x="801.5" y="107.5" width="6" height="15" fill="#fff" stroke="#000" stroke-width="1.1"/>
<polyline points="804.5,122.5 804.5,200.5" fill="none" stroke="#000" stroke-width="1.1"/>
<text x="810" y="117.5" font-size="5.4" letter-spacing="0.55" font-weight="bold">R23</text>
<polygon points="768.7,190.1 773.9,190.1 771.3,184.9" fill="#fff" stroke="#000" stroke-width="1"/>
<polyline points="767.4,184.9 775.2,184.9" fill="none" stroke="#000" stroke-width="1.2"/>
<polyline points="767.4,190.1 775.2,190.1" fill="none" stroke="#000" stroke-width="1.2"/>
<polygon points="802,190.1 807.2,190.1 804.6,184.9" fill="#fff" stroke="#000" stroke-width="1"/>
<polyline points="800.7,184.9 808.5,184.9" fill="none" stroke="#000" stroke-width="1.2"/>
<polyline points="800.7,190.1 808.5,190.1" fill="none" stroke="#000" stroke-width="1.2"/>
<text x="776" y="190.5" font-size="5.4" letter-spacing="0.55" font-weight="bold">VD23</text>
<text x="809" y="190.5" font-size="5.4" letter-spacing="0.55" font-weight="bold">VD24</text>
<polyline points="771.5,200.5 804.5,200.5" fill="none" stroke="#000" stroke-width="1.1"/>
<circle cx="788.3" cy="200" r="1.75"/>
<polyline points="788.5,200.5 788.5,222.5" fill="none" stroke="#000" stroke-width="1.1"/>
<circle cx="788.3" cy="222.6" r="1.75"/>
<text x="790" y="220.5" font-size="5.4" letter-spacing="0.55" font-weight="bold">40</text>
<polyline points="734.5,245.5 734.5,222.5 836.5,222.5 836.5,165.5" fill="none" stroke="#000" stroke-width="1.1"/>
<path d="M836.4,103 A3,3 0 0 1 836.4,109 A3,3 0 0 1 836.4,115 A3,3 0 0 1 836.4,121" fill="none" stroke="#000" stroke-width="0.9"/>
<polyline points="836.5,121.5 836.5,160.5" fill="none" stroke="#000" stroke-width="1.1"/>
<circle cx="836.4" cy="128.6" r="1.75"/>
<polyline points="842.5,102.5 842.5,122.5" fill="none" stroke="#000" stroke-width="1.0"/>
<circle cx="840" cy="101.4" r="1.1"/>
<text x="838" y="96" font-size="5.4" letter-spacing="0.55" font-weight="bold">H5</text>
<text x="823" y="105" font-size="5.4" letter-spacing="0.55" font-weight="bold">TV3</text>
<text x="839.5" y="131" font-size="5.4" letter-spacing="0.55" font-weight="bold">K5</text>
<rect x="834.4" y="162.2" width="4" height="1.2" fill="#fff"/>
<rect x="829.5" y="159.5" width="14" height="2" fill="#fff" stroke="#000" stroke-width="0.9"/>
<rect x="829.8" y="164" width="13.2" height="2.6"/>
<text x="844.5" y="166" font-size="5.4" letter-spacing="0.55" font-weight="bold">C12</text>
<polyline points="669.5,189.5 669.5,245.5" fill="none" stroke="#000" stroke-width="1.1"/>
<rect x="666.5" y="215.5" width="6" height="15" fill="#fff" stroke="#000" stroke-width="1.1"/>
<circle cx="669.4" cy="189.3" r="1.75"/>
<circle cx="669.4" cy="245.7" r="1.75"/>
<text x="673.5" y="217.5" font-size="5.4" letter-spacing="0.55" font-weight="bold">R20</text>
<polyline points="696.5,177.5 696.5,256.5 674.5,256.5" fill="none" stroke="#000" stroke-width="1.1"/>
<rect x="693.5" y="215.5" width="6" height="15" fill="#fff" stroke="#000" stroke-width="1.1"/>
<circle cx="696.3" cy="245.3" r="1.75"/>
<polyline points="696.5,245.5 734.5,245.5" fill="none" stroke="#000" stroke-width="1.1"/>
<text x="700.5" y="221.5" font-size="5.4" letter-spacing="0.55" font-weight="bold">R21</text>
<text x="698" y="242.5" font-size="5.4" letter-spacing="0.55" font-weight="bold">40</text>
<polyline points="641.5,245.5 647.5,245.5" fill="none" stroke="#000" stroke-width="1.1"/>
<rect x="647.5" y="242.5" width="15" height="6" fill="#fff" stroke="#000" stroke-width="1.1"/>
<polyline points="662.5,245.5 669.5,245.5" fill="none" stroke="#000" stroke-width="1.1"/>
<text x="650" y="240.5" font-size="5.4" letter-spacing="0.55" font-weight="bold">R19</text>
<polyline points="655.5,248.5 655.5,256.5" fill="none" stroke="#000" stroke-width="1.1"/>
<circle cx="655.4" cy="256.4" r="1.75"/>
<polyline points="655.5,256.5 672.5,256.5" fill="none" stroke="#000" stroke-width="1.1"/>
<polyline points="672.5,249.5 672.5,262.5" fill="none" stroke="#000" stroke-width="1.2"/>
<polyline points="674.5,249.5 674.5,262.5" fill="none" stroke="#000" stroke-width="1.2"/>
<text x="676" y="254" font-size="5.4" letter-spacing="0.55" font-weight="bold">C11</text>
<polyline points="616.5,339.5 898.5,339.5" fill="none" stroke="#000" stroke-width="1.2"/>
<polyline points="616.5,339.5 616.5,629.5" fill="none" stroke="#000" stroke-width="1.2"/>
<polyline points="646.5,339.5 646.5,546.5" fill="none" stroke="#000" stroke-width="1.2"/>
<polyline points="814.5,339.5 814.5,546.5" fill="none" stroke="#000" stroke-width="1.2"/>
<polyline points="829.5,339.5 829.5,546.5" fill="none" stroke="#000" stroke-width="1.2"/>
<polyline points="616.5,362.5 898.5,362.5" fill="none" stroke="#000" stroke-width="1.1"/>
<polyline points="616.5,374.5 898.5,374.5" fill="none" stroke="#000" stroke-width="1.1"/>
<polyline points="616.5,386.5 898.5,386.5" fill="none" stroke="#000" stroke-width="1.1"/>
<polyline points="616.5,398.5 898.5,398.5" fill="none" stroke="#000" stroke-width="1.1"/>
<polyline points="616.5,411.5 898.5,411.5" fill="none" stroke="#000" stroke-width="1.1"/>
<polyline points="616.5,423.5 898.5,423.5" fill="none" stroke="#000" stroke-width="1.1"/>
<polyline points="616.5,435.5 898.5,435.5" fill="none" stroke="#000" stroke-width="1.1"/>
<polyline points="616.5,447.5 898.5,447.5" fill="none" stroke="#000" stroke-width="1.1"/>
<polyline points="616.5,460.5 898.5,460.5" fill="none" stroke="#000" stroke-width="1.1"/>
<polyline points="616.5,472.5 898.5,472.5" fill="none" stroke="#000" stroke-width="1.1"/>
<polyline points="616.5,484.5 898.5,484.5" fill="none" stroke="#000" stroke-width="1.1"/>
<polyline points="616.5,496.5 898.5,496.5" fill="none" stroke="#000" stroke-width="1.1"/>
<polyline points="616.5,509.5 898.5,509.5" fill="none" stroke="#000" stroke-width="1.1"/>
<polyline points="616.5,521.5 898.5,521.5" fill="none" stroke="#000" stroke-width="1.1"/>
<polyline points="616.5,533.5 898.5,533.5" fill="none" stroke="#000" stroke-width="1.1"/>
<polyline points="616.5,546.5 898.5,546.5" fill="none" stroke="#000" stroke-width="1.1"/>
<text x="631.6" y="349.5" font-size="5.4" letter-spacing="0.7" font-weight="bold" text-anchor="middle">Поз.</text>
<text x="631.6" y="358" font-size="5.4" letter-spacing="0.7" font-weight="bold" text-anchor="middle">обозн.</text>
<text x="730" y="353.5" font-size="5.4" letter-spacing="0.7" font-weight="bold" text-anchor="middle">Наименование</text>
<text x="0" y="0" font-size="5.4" letter-spacing="0.7" font-weight="bold" text-anchor="middle" transform="translate(824,350.5) rotate(-90)">Кол.</text>
<text x="863.5" y="353.5" font-size="5.4" letter-spacing="0.3" font-weight="bold" text-anchor="middle">Примечание</text>
<text x="631.4" y="371.3" font-size="5.4" letter-spacing="0.6" font-weight="bold" text-anchor="middle">R1-R38</text>
<text x="650" y="371.3" font-size="5.4" letter-spacing="0.3" font-weight="bold">Резистор</text>
<text x="822" y="371.3" font-size="5.4" letter-spacing="0.5" font-weight="bold" text-anchor="middle">38</text>
<text x="631.4" y="383.6" font-size="5.4" letter-spacing="0.6" font-weight="bold" text-anchor="middle">C1-C16</text>
<text x="650" y="383.6" font-size="5.4" letter-spacing="0.3" font-weight="bold">Конденсатор</text>
<text x="822" y="383.6" font-size="5.4" letter-spacing="0.5" font-weight="bold" text-anchor="middle">16</text>
<text x="631.4" y="395.8" font-size="5.4" letter-spacing="0.6" font-weight="bold" text-anchor="middle">VD1-VD4</text>
<text x="650" y="395.8" font-size="5.4" letter-spacing="0.3" font-weight="bold">Диодный мост</text>
<text x="822" y="395.8" font-size="5.4" letter-spacing="0.5" font-weight="bold" text-anchor="middle">1</text>
<text x="631.4" y="408.1" font-size="5.4" letter-spacing="0.6" font-weight="bold" text-anchor="middle">VD5-VD8</text>
<text x="650" y="408.1" font-size="5.4" letter-spacing="0.3" font-weight="bold">Диодный мост</text>
<text x="822" y="408.1" font-size="5.4" letter-spacing="0.5" font-weight="bold" text-anchor="middle">1</text>
<text x="631.4" y="420.3" font-size="5.4" letter-spacing="0.2" font-weight="bold" text-anchor="middle">VD9-VD12</text>
<text x="650" y="420.3" font-size="5.4" letter-spacing="0.3" font-weight="bold">Диодный мост</text>
<text x="822" y="420.3" font-size="5.4" letter-spacing="0.5" font-weight="bold" text-anchor="middle">1</text>
<text x="631.4" y="432.6" font-size="5.4" letter-spacing="-0.1" font-weight="bold" text-anchor="middle">VD13-VD16</text>
<text x="650" y="432.6" font-size="5.4" letter-spacing="0.3" font-weight="bold">Диодный мост</text>
<text x="822" y="432.6" font-size="5.4" letter-spacing="0.5" font-weight="bold" text-anchor="middle">1</text>
<text x="631.4" y="444.9" font-size="5.4" letter-spacing="-0.1" font-weight="bold" text-anchor="middle">VD17-VD33</text>
<text x="650" y="444.9" font-size="5.4" letter-spacing="0.3" font-weight="bold">Диод</text>
<text x="822" y="444.9" font-size="5.4" letter-spacing="0.5" font-weight="bold" text-anchor="middle">16</text>
<text x="631.4" y="457.1" font-size="5.4" letter-spacing="0.6" font-weight="bold" text-anchor="middle">FU1-FU4</text>
<text x="650" y="457.1" font-size="5.4" letter-spacing="0.3" font-weight="bold">Предохранитель</text>
<text x="822" y="457.1" font-size="5.4" letter-spacing="0.5" font-weight="bold" text-anchor="middle">4</text>
<text x="631.4" y="469.4" font-size="5.4" letter-spacing="0.2" font-weight="bold" text-anchor="middle">VT1-VT10</text>
<text x="650" y="469.4" font-size="5.4" letter-spacing="0.3" font-weight="bold">Транзистор</text>
<text x="822" y="469.4" font-size="5.4" letter-spacing="0.5" font-weight="bold" text-anchor="middle">10</text>
<text x="631.4" y="481.6" font-size="5.4" letter-spacing="0.6" font-weight="bold" text-anchor="middle">TV1-TV4</text>
<text x="650" y="481.6" font-size="5.4" letter-spacing="0.3" font-weight="bold">Трансформатор</text>
<text x="822" y="481.6" font-size="5.4" letter-spacing="0.5" font-weight="bold" text-anchor="middle">4</text>
<text x="631.4" y="493.9" font-size="5.4" letter-spacing="0.6" font-weight="bold" text-anchor="middle">HL</text>
<text x="650" y="493.9" font-size="5.4" letter-spacing="0.3" font-weight="bold">Лампа сигнальная</text>
<text x="822" y="493.9" font-size="5.4" letter-spacing="0.5" font-weight="bold" text-anchor="middle">1</text>
<text x="631.4" y="506.2" font-size="5.4" letter-spacing="0.6" font-weight="bold" text-anchor="middle">A</text>
<text x="650" y="506.2" font-size="5.4" letter-spacing="0.3" font-weight="bold">Амперметр</text>
<text x="822" y="506.2" font-size="5.4" letter-spacing="0.5" font-weight="bold" text-anchor="middle">1</text>
<text x="631.4" y="518.4" font-size="5.4" letter-spacing="0.6" font-weight="bold" text-anchor="middle">V</text>
<text x="650" y="518.4" font-size="5.4" letter-spacing="0.3" font-weight="bold">Вольтметр</text>
<text x="822" y="518.4" font-size="5.4" letter-spacing="0.5" font-weight="bold" text-anchor="middle">1</text>
<text x="631.4" y="530.7" font-size="5.4" letter-spacing="0.6" font-weight="bold" text-anchor="middle">VD1-VD6</text>
<text x="650" y="530.7" font-size="5.4" letter-spacing="0.3" font-weight="bold">Стабилитрон</text>
<text x="822" y="530.7" font-size="5.4" letter-spacing="0.5" font-weight="bold" text-anchor="middle">6</text>
<text x="631.4" y="542.9" font-size="5.4" letter-spacing="0.6" font-weight="bold" text-anchor="middle">VS1-VS4</text>
<text x="650" y="542.9" font-size="5.4" letter-spacing="0.3" font-weight="bold">Тиристор</text>
<text x="822" y="542.9" font-size="5.4" letter-spacing="0.5" font-weight="bold" text-anchor="middle">4</text>
<polyline points="616.5,546.5 616.5,629.5" fill="none" stroke="#000" stroke-width="1.1"/>
<polyline points="626.5,546.5 626.5,583.5" fill="none" stroke="#000" stroke-width="1.1"/>
<polyline points="642.5,546.5 642.5,629.5" fill="none" stroke="#000" stroke-width="1.1"/>
<polyline points="677.5,546.5 677.5,629.5" fill="none" stroke="#000" stroke-width="1.1"/>
<polyline points="700.5,546.5 700.5,629.5" fill="none" stroke="#000" stroke-width="1.1"/>
<polyline points="715.5,546.5 715.5,629.5" fill="none" stroke="#000" stroke-width="1.2"/>
<polyline points="616.5,554.5 715.5,554.5" fill="none" stroke="#000" stroke-width="1.1"/>
<polyline points="616.5,561.5 715.5,561.5" fill="none" stroke="#000" stroke-width="1.1"/>
<polyline points="616.5,568.5 715.5,568.5" fill="none" stroke="#000" stroke-width="1.1"/>
<polyline points="616.5,576.5 715.5,576.5" fill="none" stroke="#000" stroke-width="1.1"/>
<polyline points="616.5,583.5 715.5,583.5" fill="none" stroke="#000" stroke-width="1.1"/>
<polyline points="616.5,591.5 715.5,591.5" fill="none" stroke="#000" stroke-width="1.1"/>
<polyline points="616.5,599.5 715.5,599.5" fill="none" stroke="#000" stroke-width="1.1"/>
<polyline points="616.5,607.5 715.5,607.5" fill="none" stroke="#000" stroke-width="1.1"/>
<polyline points="616.5,614.5 715.5,614.5" fill="none" stroke="#000" stroke-width="1.1"/>
<polyline points="616.5,622.5 715.5,622.5" fill="none" stroke="#000" stroke-width="1.1"/>
<polyline points="715.5,568.5 898.5,568.5" fill="none" stroke="#000" stroke-width="1.1"/>
<polyline points="715.5,607.5 898.5,607.5" fill="none" stroke="#000" stroke-width="1.1"/>
<polyline points="822.5,568.5 822.5,629.5" fill="none" stroke="#000" stroke-width="1.1"/>
<polyline points="822.5,576.5 898.5,576.5" fill="none" stroke="#000" stroke-width="1.1"/>
<polyline points="822.5,599.5 898.5,599.5" fill="none" stroke="#000" stroke-width="1.1"/>
<polyline points="845.5,568.5 845.5,607.5" fill="none" stroke="#000" stroke-width="1.1"/>
<polyline points="871.5,568.5 871.5,607.5" fill="none" stroke="#000" stroke-width="1.1"/>
<polyline points="829.5,576.5 829.5,599.5" fill="none" stroke="#000" stroke-width="1.1"/>
<polyline points="837.5,576.5 837.5,599.5" fill="none" stroke="#000" stroke-width="1.1"/>
<rect x="617" y="578.2" width="9" height="4"/>
<rect x="627.8" y="578.2" width="9.4" height="4"/>
<rect x="644.1" y="579" width="3.5" height="3.5"/>
<rect x="649.2" y="578" width="12.7" height="4.5"/>
<rect x="679.2" y="578.2" width="10.7" height="4"/>
<rect x="700.9" y="578.2" width="8.8" height="4"/>
<rect x="617.9" y="586.5" width="17.6" height="4.2"/>
<rect x="617.9" y="593.5" width="15.7" height="4.2"/>
<rect x="617.9" y="601.3" width="16.8" height="4.3"/>
<rect x="617.9" y="616.1" width="16.8" height="4.6"/>
<rect x="617.9" y="623.2" width="8.1" height="4.1"/>
<rect x="825.7" y="570.7" width="7.3" height="3.7"/>
<rect x="849.7" y="570.7" width="13.6" height="3.7"/>
<rect x="873.7" y="570.7" width="17.7" height="3.7"/>
<rect x="825.1" y="601.1" width="12.5" height="3.1"/>
<rect x="872.7" y="600" width="17.1" height="4.6"/>
<text x="648" y="590" font-size="5.4" letter-spacing="0.3" font-weight="bold">Чкунов</text>
<text x="644" y="597.8" font-size="5.0" letter-spacing="-0.05" font-weight="bold">Сальникова</text>
<text x="731" y="560.5" font-size="5.4" letter-spacing="0.3" font-weight="bold">Письменная экзаменационная работа</text>
<text x="719.5" y="582.5" font-size="5.4" letter-spacing="0.3" font-weight="bold">Преобразователь тиристорный</text>
<text x="719.5" y="590.5" font-size="5.4" letter-spacing="0.3" font-weight="bold">ПТО-М</text>
<text x="719.5" y="598.5" font-size="5.4" letter-spacing="0.3" font-weight="bold">Схема принципиальная</text>
<text x="823" y="591" font-size="7.5" letter-spacing="0" font-weight="bold">У</text>
<text x="883.5" y="593" font-size="9" letter-spacing="0.3" font-weight="normal" text-anchor="middle" fill="#333">1:1</text>
<text x="856.5" y="619.5" font-size="5.4" letter-spacing="0.5" font-weight="bold" text-anchor="middle">УО БГПЭК</text>
<text x="853.5" y="627.5" font-size="5.4" letter-spacing="0.5" font-weight="bold" text-anchor="middle">гр.301</text>
</svg>
</body></html>
